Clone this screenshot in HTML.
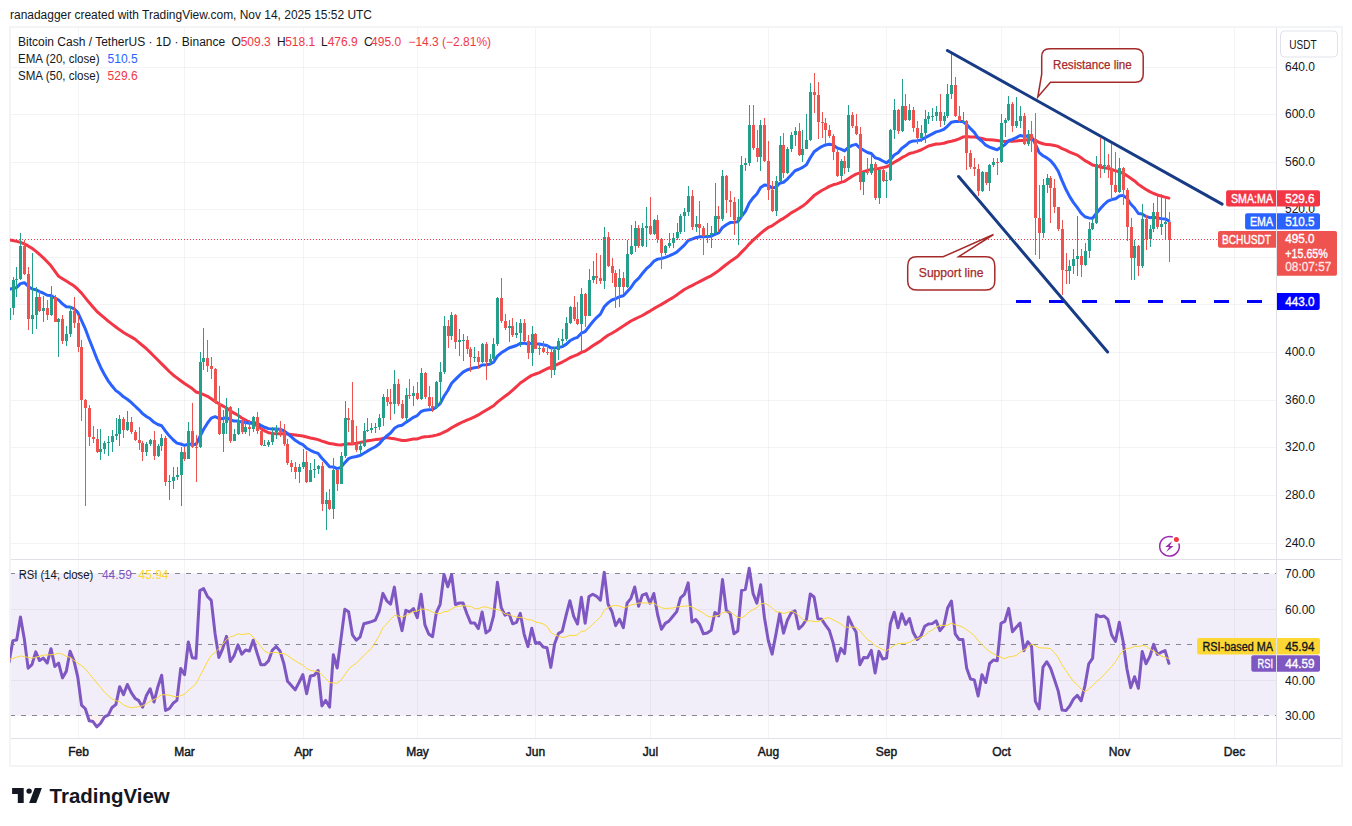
<!DOCTYPE html>
<html><head><meta charset="utf-8"><title>BCHUSDT chart</title>
<style>
html,body{margin:0;padding:0;background:#fff;width:1352px;height:826px;overflow:hidden}
svg{display:block}
text{font-family:"Liberation Sans",sans-serif}
</style></head><body>
<svg width="1352" height="826" viewBox="0 0 1352 826">
<defs>
<clipPath id="main"><rect x="10" y="28" width="1266" height="531"/></clipPath>
<clipPath id="rsi"><rect x="10" y="560" width="1266" height="178"/></clipPath>
</defs>
<rect width="1352" height="826" fill="#fff"/>

<text x="10" y="19" font-size="12" fill="#131722" textLength="362" lengthAdjust="spacingAndGlyphs">ranadagger created with TradingView.com, Nov 14, 2025 15:52 UTC</text>
<rect x="9" y="26" width="1334" height="741" fill="#f3f4f6"/>
<rect x="11" y="28" width="1330" height="737" fill="#fff"/>
<rect x="11" y="573.5" width="1265" height="142" fill="#f2eef9"/>
<rect x="78" y="28" width="1" height="710" fill="#000" fill-opacity="0.045"/>
<rect x="184" y="28" width="1" height="710" fill="#000" fill-opacity="0.045"/>
<rect x="303" y="28" width="1" height="710" fill="#000" fill-opacity="0.045"/>
<rect x="417" y="28" width="1" height="710" fill="#000" fill-opacity="0.045"/>
<rect x="535" y="28" width="1" height="710" fill="#000" fill-opacity="0.045"/>
<rect x="650" y="28" width="1" height="710" fill="#000" fill-opacity="0.045"/>
<rect x="768" y="28" width="1" height="710" fill="#000" fill-opacity="0.045"/>
<rect x="886" y="28" width="1" height="710" fill="#000" fill-opacity="0.045"/>
<rect x="1001" y="28" width="1" height="710" fill="#000" fill-opacity="0.045"/>
<rect x="1119" y="28" width="1" height="710" fill="#000" fill-opacity="0.045"/>
<rect x="1234" y="28" width="1" height="710" fill="#000" fill-opacity="0.045"/>
<rect x="11" y="67" width="1265" height="1" fill="#000" fill-opacity="0.045"/>
<rect x="11" y="114" width="1265" height="1" fill="#000" fill-opacity="0.045"/>
<rect x="11" y="162" width="1265" height="1" fill="#000" fill-opacity="0.045"/>
<rect x="11" y="209" width="1265" height="1" fill="#000" fill-opacity="0.045"/>
<rect x="11" y="257" width="1265" height="1" fill="#000" fill-opacity="0.045"/>
<rect x="11" y="304" width="1265" height="1" fill="#000" fill-opacity="0.045"/>
<rect x="11" y="352" width="1265" height="1" fill="#000" fill-opacity="0.045"/>
<rect x="11" y="400" width="1265" height="1" fill="#000" fill-opacity="0.045"/>
<rect x="11" y="447" width="1265" height="1" fill="#000" fill-opacity="0.045"/>
<rect x="11" y="495" width="1265" height="1" fill="#000" fill-opacity="0.045"/>
<rect x="11" y="543" width="1265" height="1" fill="#000" fill-opacity="0.045"/>
<rect x="11" y="609" width="1265" height="1" fill="#000" fill-opacity="0.045"/>
<rect x="11" y="680" width="1265" height="1" fill="#000" fill-opacity="0.045"/>
<rect x="11" y="559" width="1330" height="1" fill="#e0e2e7"/>
<rect x="11" y="738" width="1330" height="1" fill="#e0e2e7"/>
<rect x="1276" y="28" width="1" height="737" fill="#e0e2e7"/>
<line x1="11" y1="573.5" x2="1276" y2="573.5" stroke="#868993" stroke-width="1" stroke-dasharray="5 6" stroke-dashoffset="1"/>
<line x1="11" y1="644.5" x2="1276" y2="644.5" stroke="#868993" stroke-width="1" stroke-dasharray="5 6" stroke-dashoffset="1"/>
<line x1="11" y1="715.5" x2="1276" y2="715.5" stroke="#868993" stroke-width="1" stroke-dasharray="5 6" stroke-dashoffset="1"/>
<g clip-path="url(#main)">
<polyline points="9.04,239.9 12.86,240.6 16.68,241.35 20.49,242.3 24.31,243.84 28.12,245.91 31.94,248.28 35.75,251.11 39.57,254.42 43.38,257.9 47.2,261.76 51.01,265.85 54.83,271.1 58.64,276.33 62.46,278.67 66.27,281.02 70.09,283.42 73.91,285.84 77.72,289.22 81.54,293.09 85.35,297.84 89.17,302.58 92.98,306.95 96.8,311.28 100.61,314.72 104.43,317.89 108.24,321.06 112.06,324.08 115.87,326.97 119.69,329.85 123.5,332.53 127.32,334.72 131.13,336.9 134.95,339.13 138.77,342.32 142.58,345.52 146.4,348.71 150.21,352.41 154.03,356.23 157.84,360.04 161.66,363.86 165.47,367.67 169.29,371.49 173.1,374.98 176.92,377.84 180.73,380.7 184.55,383.53 188.36,386.08 192.18,388.62 195.99,391.97 199.81,393.06 203.63,394.63 207.44,396.35 211.26,398.82 215.07,401.4 218.89,403.69 222.7,405.84 226.52,408.03 230.33,410.64 234.15,413.15 237.96,415.26 241.78,417.96 245.59,420.06 249.41,422.26 253.22,423.78 257.04,425.73 260.85,428.41 264.67,430.85 268.49,432.74 272.3,433.38 276.12,433.79 279.93,433.7 283.75,433.8 287.56,434.01 291.38,434.38 295.19,434.95 299.01,435.46 302.82,435.99 306.64,436.96 310.45,437.97 314.27,438.75 318.08,439.63 321.9,441.07 325.71,442.27 329.53,443.58 333.35,443.93 337.16,444.72 340.98,445.03 344.79,444.28 348.61,443.77 352.42,443.9 356.24,443.26 360.05,442.57 363.87,441.64 367.68,440.74 371.5,440.26 375.31,439.62 379.13,439.36 382.94,438.36 386.76,437.46 390.58,438.31 394.39,438.83 398.21,439.61 402.02,440.57 405.84,440.41 409.65,439.66 413.47,439.07 417.28,438.91 421.1,437.55 424.91,436.83 428.73,436.54 432.54,436.06 436.36,435.15 440.17,434.02 443.99,432.2 447.8,430.31 451.62,427.7 455.44,425.64 459.25,423.6 463.07,421.76 466.88,420.17 470.7,418.66 474.51,416.93 478.33,414.92 482.14,412.46 485.96,410.25 489.77,408.09 493.59,405.73 497.4,402.06 501.22,399.08 505.03,396.25 508.85,393.44 512.66,390.05 516.48,386.71 520.3,383 524.11,380.42 527.93,377.8 531.74,375.37 535.56,373.98 539.37,372.53 543.19,370.69 547,368.75 550.82,367.23 554.63,365.62 558.45,363.85 562.26,362.05 566.08,359.98 569.89,357.76 573.71,356.19 577.52,354.64 581.34,352.42 585.16,351.05 588.97,348.55 592.79,345.72 596.6,343.38 600.42,341.07 604.23,337.96 608.05,335.28 611.86,333.28 615.68,331.07 619.49,328.52 623.31,326.1 627.12,323.53 630.94,321.01 634.75,319.05 638.57,317.24 642.38,315.5 646.2,313.18 650.02,311.07 653.83,308.67 657.65,306.46 661.46,304.37 665.28,302.14 669.09,299.76 672.91,297.63 676.72,295.03 680.54,292.16 684.35,289.51 688.17,287.47 691.98,285.59 695.8,283.51 699.61,281.56 703.43,279.58 707.24,277.62 711.06,275.81 714.88,273.32 718.69,270.63 722.51,267.47 726.32,264.5 730.14,261.58 733.95,258.95 737.77,256.24 741.58,252.13 745.4,248.38 749.21,244.07 753.03,240.25 756.84,236.93 760.66,233.31 764.47,230.15 768.29,227.47 772.11,225.81 775.92,223.12 779.74,220.42 783.55,218.36 787.37,215.79 791.18,212.88 795,210.75 798.81,208.55 802.63,206.08 806.44,203.15 810.26,199.41 814.07,195.58 817.89,192.95 821.7,190.48 825.52,188.53 829.33,186.35 833.15,184.82 836.97,183.84 840.78,182.37 844.6,181.33 848.41,178.86 852.23,176.32 856.04,174.09 859.86,172.88 863.67,171.58 867.49,170.39 871.3,169.35 875.12,169.07 878.93,168.54 882.75,167.63 886.56,166.75 890.38,164.8 894.19,162.28 898.01,160.19 901.83,157.66 905.64,155.74 909.46,153.57 913.27,152.62 917.09,151.38 920.9,150.01 924.72,147.99 928.53,145.97 932.35,144.98 936.16,143.96 939.98,143.88 943.79,143.24 947.61,141.98 951.42,141.17 955.24,140.26 959.05,138.88 962.87,137.1 966.69,136.54 970.5,136.99 974.32,136.9 978.13,137.73 981.95,138.47 985.76,139.51 989.58,139.71 993.39,139.95 997.21,140.4 1001.02,141.02 1004.84,141.52 1008.65,141.15 1012.47,141.21 1016.28,141.02 1020.1,140.61 1023.91,140.45 1027.73,139.6 1031.55,139.17 1035.36,140.18 1039.18,142.54 1042.99,143.72 1046.81,144.6 1050.62,144.72 1054.44,145.42 1058.25,146.53 1062.07,148.66 1065.88,150.13 1069.7,152.07 1073.51,153.63 1077.33,155.14 1081.14,157.84 1084.96,160.66 1088.77,162.62 1092.59,164.96 1096.41,165.83 1100.22,166.94 1104.04,167.67 1107.85,168.28 1111.67,169.32 1115.48,170.78 1119.3,171.83 1123.11,173.31 1126.93,175.6 1130.74,178.34 1134.56,180.93 1138.37,184.36 1142.19,187.05 1146,189.52 1149.82,191.68 1153.64,193.49 1157.45,194.97 1161.27,196.1 1165.08,197.17 1168.9,198.14" fill="none" stroke="#f23645" stroke-width="3" stroke-linejoin="round" stroke-linecap="round"/>
<polyline points="9.04,289.3 12.86,288.42 16.68,287.55 20.49,283.62 24.31,282.68 28.12,286.18 31.94,288.89 35.75,289.7 39.57,291.7 43.38,293.22 47.2,295.26 51.01,295.47 54.83,298.04 58.64,300 62.46,303.87 66.27,306.7 70.09,307.08 73.91,308.62 77.72,312.27 81.54,320.62 85.35,328.97 89.17,339.24 92.98,348.74 96.8,358.59 100.61,367.19 104.43,374.45 108.24,380.87 112.06,386.09 115.87,390.61 119.69,393.33 123.5,396.84 127.32,399.25 131.13,402.41 134.95,406 138.77,409.56 142.58,413.62 146.4,416.56 150.21,418.8 154.03,422.3 157.84,424.52 161.66,425.75 165.47,431.1 169.29,435.82 173.1,439.75 176.92,443.11 180.73,444 184.55,445.42 188.36,444.04 192.18,444.31 195.99,444.59 199.81,436.73 203.63,429.27 207.44,423.21 211.26,418.08 215.07,416.66 218.89,418.26 222.7,418.68 226.52,417.56 230.33,419.77 234.15,421.08 237.96,420.99 241.78,422.07 245.59,422.58 249.41,423.15 253.22,422.54 257.04,423.33 260.85,425.4 264.67,427.26 268.49,428.62 272.3,428.94 276.12,428.9 279.93,429.24 283.75,430.63 287.56,433.68 291.38,436.89 295.19,440.26 299.01,442.84 302.82,444.7 306.64,448.21 310.45,450.27 314.27,452.08 318.08,453.43 321.9,458.25 325.71,462.27 329.53,466.7 333.35,467 337.16,468.62 340.98,467.38 344.79,462.67 348.61,458.62 352.42,457.21 356.24,456.49 360.05,455.51 363.87,453.17 367.68,450.93 371.5,448.8 375.31,446.71 379.13,443.97 382.94,439.5 386.76,435.94 390.58,432.95 394.39,428.33 398.21,426.06 402.02,425.25 405.84,422.38 409.65,419.89 413.47,417.3 417.28,415.59 421.1,411.5 424.91,410.16 428.73,409.74 432.54,409.58 436.36,406.96 440.17,403.63 443.99,396.23 447.8,390.5 451.62,383.29 455.44,379.36 459.25,375.57 463.07,372.15 466.88,369.95 470.7,368.75 474.51,367.66 478.33,367.12 482.14,364.95 485.96,364.67 489.77,364.14 493.59,362.25 497.4,356.16 501.22,352.79 505.03,350.41 508.85,348.03 512.66,346.78 516.48,345.5 520.3,343.39 524.11,343.16 527.93,344.09 531.74,343.13 535.56,343.65 539.37,344.03 543.19,344.76 547,345.49 550.82,347.87 554.63,348.12 558.45,347.44 562.26,346.61 566.08,344.39 569.89,340.81 573.71,338.7 577.52,337.34 581.34,333.2 585.16,331.52 588.97,326.59 592.79,321.78 596.6,317.59 600.42,314.09 604.23,306.77 608.05,302.84 611.86,299.96 615.68,298.71 619.49,296.78 623.31,295.83 627.12,291.82 630.94,287.47 634.75,281.79 638.57,278.34 642.38,273.54 646.2,268.99 650.02,265.65 653.83,261.29 657.65,259.14 661.46,258.54 665.28,257.33 669.09,255.95 672.91,254.2 676.72,252.11 680.54,248.65 684.35,245.11 688.17,240.46 691.98,239.16 695.8,237.72 699.61,236.79 703.43,236.71 707.24,236.57 711.06,236.21 714.88,234.31 718.69,232.81 722.51,227.41 726.32,224.77 730.14,222.61 733.95,222.35 737.77,221.84 741.58,216.43 745.4,211.36 749.21,203.18 753.03,197.9 756.84,194.04 760.66,187.5 764.47,184.96 768.29,185.48 772.11,187.88 775.92,187.25 779.74,183.2 783.55,182.23 787.37,179.1 791.18,174.92 795,170.74 798.81,169.27 802.63,167.37 806.44,164.77 810.26,157.8 814.07,151.83 817.89,149.02 821.7,146.54 825.52,144.97 829.33,144.16 833.15,144.88 836.97,147.89 840.78,149.11 844.6,150.89 848.41,147.49 852.23,145.43 856.04,144.35 859.86,147.97 863.67,150.31 867.49,152.47 871.3,153.53 875.12,157.75 878.93,158.87 882.75,161 886.56,162.82 890.38,159.74 894.19,155.01 898.01,152.69 901.83,148.25 905.64,145.58 909.46,142.22 913.27,140.91 917.09,140.64 920.9,139.93 924.72,137.95 928.53,135.86 932.35,133.92 936.16,131.83 939.98,130.84 943.79,129.42 947.61,126.08 951.42,122.15 955.24,121.51 959.05,121.5 962.87,121.49 966.69,124.52 970.5,128.61 974.32,132.41 978.13,137.99 981.95,141.25 985.76,145.21 989.58,147.1 993.39,148.47 997.21,149.8 1001.02,147.21 1004.84,144.64 1008.65,140.74 1012.47,139.34 1016.28,137.57 1020.1,135.51 1023.91,136.29 1027.73,136.09 1031.55,136.38 1035.36,144.15 1039.18,152.65 1042.99,155.73 1046.81,157.85 1050.62,160.77 1054.44,165.21 1058.25,171.25 1062.07,180.66 1065.88,189.28 1069.7,196.63 1073.51,202.6 1077.33,207.67 1081.14,213.16 1084.96,216.77 1088.77,217.91 1092.59,218.37 1096.41,213.17 1100.22,208.68 1104.04,204.51 1107.85,201.08 1111.67,199.55 1115.48,198.84 1119.3,195.95 1123.11,195.36 1126.93,198.34 1130.74,204.02 1134.56,207.98 1138.37,213.51 1142.19,214.03 1146,216.44 1149.82,217.66 1153.64,217.12 1157.45,218.06 1161.27,218.63 1165.08,218.95 1168.9,220.91" fill="none" stroke="#2962ff" stroke-width="3" stroke-linejoin="round" stroke-linecap="round"/>
<rect x="9" y="307" width="1" height="12" fill="#22a08c"/>
<rect x="8" y="308" width="3" height="12" fill="#22a08c"/>
<rect x="13" y="277" width="1" height="38" fill="#22a08c"/>
<rect x="12" y="280" width="3" height="28" fill="#22a08c"/>
<rect x="16" y="267" width="1" height="30" fill="#22a08c"/>
<rect x="15" y="279" width="3" height="1" fill="#22a08c"/>
<rect x="20" y="233" width="1" height="47" fill="#22a08c"/>
<rect x="19" y="246" width="3" height="33" fill="#22a08c"/>
<rect x="24" y="240" width="1" height="35" fill="#ef5350"/>
<rect x="23" y="246" width="3" height="28" fill="#ef5350"/>
<rect x="28" y="267" width="1" height="63" fill="#ef5350"/>
<rect x="27" y="274" width="3" height="45" fill="#ef5350"/>
<rect x="32" y="253" width="1" height="81" fill="#22a08c"/>
<rect x="31" y="315" width="3" height="4" fill="#22a08c"/>
<rect x="36" y="287" width="1" height="42" fill="#22a08c"/>
<rect x="35" y="297" width="3" height="18" fill="#22a08c"/>
<rect x="39" y="291" width="1" height="21" fill="#ef5350"/>
<rect x="38" y="297" width="3" height="14" fill="#ef5350"/>
<rect x="43" y="296" width="1" height="26" fill="#22a08c"/>
<rect x="42" y="308" width="3" height="3" fill="#22a08c"/>
<rect x="47" y="300" width="1" height="20" fill="#ef5350"/>
<rect x="46" y="308" width="3" height="7" fill="#ef5350"/>
<rect x="51" y="286" width="1" height="30" fill="#22a08c"/>
<rect x="50" y="297" width="3" height="18" fill="#22a08c"/>
<rect x="55" y="295" width="1" height="27" fill="#ef5350"/>
<rect x="54" y="297" width="3" height="25" fill="#ef5350"/>
<rect x="58" y="318" width="1" height="39" fill="#22a08c"/>
<rect x="57" y="319" width="3" height="3" fill="#22a08c"/>
<rect x="62" y="315" width="1" height="29" fill="#ef5350"/>
<rect x="61" y="319" width="3" height="22" fill="#ef5350"/>
<rect x="66" y="326" width="1" height="20" fill="#22a08c"/>
<rect x="65" y="334" width="3" height="7" fill="#22a08c"/>
<rect x="70" y="306" width="1" height="31" fill="#22a08c"/>
<rect x="69" y="311" width="3" height="23" fill="#22a08c"/>
<rect x="74" y="297" width="1" height="31" fill="#ef5350"/>
<rect x="73" y="311" width="3" height="12" fill="#ef5350"/>
<rect x="78" y="315" width="1" height="37" fill="#ef5350"/>
<rect x="77" y="323" width="3" height="24" fill="#ef5350"/>
<rect x="81" y="340" width="1" height="81" fill="#ef5350"/>
<rect x="80" y="347" width="3" height="53" fill="#ef5350"/>
<rect x="85" y="399" width="1" height="107" fill="#ef5350"/>
<rect x="84" y="400" width="3" height="8" fill="#ef5350"/>
<rect x="89" y="405" width="1" height="41" fill="#ef5350"/>
<rect x="88" y="408" width="3" height="29" fill="#ef5350"/>
<rect x="93" y="426" width="1" height="17" fill="#ef5350"/>
<rect x="92" y="437" width="3" height="2" fill="#ef5350"/>
<rect x="97" y="429" width="1" height="24" fill="#ef5350"/>
<rect x="96" y="439" width="3" height="13" fill="#ef5350"/>
<rect x="100" y="429" width="1" height="31" fill="#22a08c"/>
<rect x="99" y="449" width="3" height="3" fill="#22a08c"/>
<rect x="104" y="441" width="1" height="13" fill="#22a08c"/>
<rect x="103" y="443" width="3" height="6" fill="#22a08c"/>
<rect x="108" y="436" width="1" height="20" fill="#22a08c"/>
<rect x="107" y="442" width="3" height="1" fill="#22a08c"/>
<rect x="112" y="430" width="1" height="22" fill="#22a08c"/>
<rect x="111" y="436" width="3" height="6" fill="#22a08c"/>
<rect x="116" y="418" width="1" height="22" fill="#22a08c"/>
<rect x="115" y="434" width="3" height="2" fill="#22a08c"/>
<rect x="119" y="415" width="1" height="31" fill="#22a08c"/>
<rect x="118" y="419" width="3" height="15" fill="#22a08c"/>
<rect x="123" y="417" width="1" height="21" fill="#ef5350"/>
<rect x="122" y="419" width="3" height="11" fill="#ef5350"/>
<rect x="127" y="411" width="1" height="20" fill="#22a08c"/>
<rect x="126" y="422" width="3" height="8" fill="#22a08c"/>
<rect x="131" y="417" width="1" height="17" fill="#ef5350"/>
<rect x="130" y="422" width="3" height="10" fill="#ef5350"/>
<rect x="135" y="430" width="1" height="11" fill="#ef5350"/>
<rect x="134" y="432" width="3" height="8" fill="#ef5350"/>
<rect x="139" y="427" width="1" height="23" fill="#ef5350"/>
<rect x="138" y="440" width="3" height="3" fill="#ef5350"/>
<rect x="142" y="441" width="1" height="20" fill="#ef5350"/>
<rect x="141" y="443" width="3" height="9" fill="#ef5350"/>
<rect x="146" y="442" width="1" height="14" fill="#22a08c"/>
<rect x="145" y="444" width="3" height="8" fill="#22a08c"/>
<rect x="150" y="439" width="1" height="7" fill="#22a08c"/>
<rect x="149" y="440" width="3" height="4" fill="#22a08c"/>
<rect x="154" y="431" width="1" height="29" fill="#ef5350"/>
<rect x="153" y="440" width="3" height="16" fill="#ef5350"/>
<rect x="158" y="444" width="1" height="13" fill="#22a08c"/>
<rect x="157" y="446" width="3" height="10" fill="#22a08c"/>
<rect x="161" y="434" width="1" height="17" fill="#22a08c"/>
<rect x="160" y="438" width="3" height="8" fill="#22a08c"/>
<rect x="165" y="436" width="1" height="50" fill="#ef5350"/>
<rect x="164" y="438" width="3" height="44" fill="#ef5350"/>
<rect x="169" y="475" width="1" height="25" fill="#22a08c"/>
<rect x="168" y="481" width="3" height="1" fill="#22a08c"/>
<rect x="173" y="467" width="1" height="22" fill="#22a08c"/>
<rect x="172" y="477" width="3" height="4" fill="#22a08c"/>
<rect x="177" y="467" width="1" height="13" fill="#22a08c"/>
<rect x="176" y="475" width="3" height="2" fill="#22a08c"/>
<rect x="181" y="447" width="1" height="59" fill="#22a08c"/>
<rect x="180" y="452" width="3" height="23" fill="#22a08c"/>
<rect x="184" y="447" width="1" height="14" fill="#ef5350"/>
<rect x="183" y="452" width="3" height="7" fill="#ef5350"/>
<rect x="188" y="422" width="1" height="37" fill="#22a08c"/>
<rect x="187" y="431" width="3" height="28" fill="#22a08c"/>
<rect x="192" y="403" width="1" height="45" fill="#ef5350"/>
<rect x="191" y="431" width="3" height="16" fill="#ef5350"/>
<rect x="196" y="435" width="1" height="47" fill="#ef5350"/>
<rect x="195" y="447" width="3" height="1" fill="#ef5350"/>
<rect x="200" y="352" width="1" height="96" fill="#22a08c"/>
<rect x="199" y="362" width="3" height="85" fill="#22a08c"/>
<rect x="203" y="328" width="1" height="42" fill="#22a08c"/>
<rect x="202" y="358" width="3" height="4" fill="#22a08c"/>
<rect x="207" y="340" width="1" height="32" fill="#ef5350"/>
<rect x="206" y="358" width="3" height="8" fill="#ef5350"/>
<rect x="211" y="357" width="1" height="22" fill="#ef5350"/>
<rect x="210" y="366" width="3" height="3" fill="#ef5350"/>
<rect x="215" y="368" width="1" height="36" fill="#ef5350"/>
<rect x="214" y="369" width="3" height="34" fill="#ef5350"/>
<rect x="219" y="386" width="1" height="49" fill="#ef5350"/>
<rect x="218" y="403" width="3" height="31" fill="#ef5350"/>
<rect x="223" y="410" width="1" height="42" fill="#22a08c"/>
<rect x="222" y="423" width="3" height="11" fill="#22a08c"/>
<rect x="226" y="398" width="1" height="36" fill="#22a08c"/>
<rect x="225" y="407" width="3" height="16" fill="#22a08c"/>
<rect x="230" y="406" width="1" height="37" fill="#ef5350"/>
<rect x="229" y="407" width="3" height="34" fill="#ef5350"/>
<rect x="234" y="429" width="1" height="12" fill="#22a08c"/>
<rect x="233" y="434" width="3" height="7" fill="#22a08c"/>
<rect x="238" y="408" width="1" height="27" fill="#22a08c"/>
<rect x="237" y="420" width="3" height="14" fill="#22a08c"/>
<rect x="242" y="419" width="1" height="15" fill="#ef5350"/>
<rect x="241" y="420" width="3" height="12" fill="#ef5350"/>
<rect x="245" y="420" width="1" height="14" fill="#22a08c"/>
<rect x="244" y="427" width="3" height="5" fill="#22a08c"/>
<rect x="249" y="420" width="1" height="16" fill="#ef5350"/>
<rect x="248" y="427" width="3" height="2" fill="#ef5350"/>
<rect x="253" y="416" width="1" height="16" fill="#22a08c"/>
<rect x="252" y="417" width="3" height="12" fill="#22a08c"/>
<rect x="257" y="412" width="1" height="22" fill="#ef5350"/>
<rect x="256" y="417" width="3" height="14" fill="#ef5350"/>
<rect x="261" y="428" width="1" height="18" fill="#ef5350"/>
<rect x="260" y="431" width="3" height="14" fill="#ef5350"/>
<rect x="264" y="440" width="1" height="6" fill="#22a08c"/>
<rect x="263" y="445" width="3" height="1" fill="#22a08c"/>
<rect x="268" y="440" width="1" height="7" fill="#22a08c"/>
<rect x="267" y="442" width="3" height="3" fill="#22a08c"/>
<rect x="272" y="427" width="1" height="18" fill="#22a08c"/>
<rect x="271" y="432" width="3" height="10" fill="#22a08c"/>
<rect x="276" y="425" width="1" height="14" fill="#22a08c"/>
<rect x="275" y="428" width="3" height="4" fill="#22a08c"/>
<rect x="280" y="421" width="1" height="16" fill="#ef5350"/>
<rect x="279" y="428" width="3" height="4" fill="#ef5350"/>
<rect x="284" y="424" width="1" height="22" fill="#ef5350"/>
<rect x="283" y="432" width="3" height="12" fill="#ef5350"/>
<rect x="287" y="439" width="1" height="26" fill="#ef5350"/>
<rect x="286" y="444" width="3" height="19" fill="#ef5350"/>
<rect x="291" y="460" width="1" height="12" fill="#ef5350"/>
<rect x="290" y="463" width="3" height="4" fill="#ef5350"/>
<rect x="295" y="462" width="1" height="17" fill="#ef5350"/>
<rect x="294" y="467" width="3" height="5" fill="#ef5350"/>
<rect x="299" y="464" width="1" height="19" fill="#22a08c"/>
<rect x="298" y="467" width="3" height="5" fill="#22a08c"/>
<rect x="303" y="449" width="1" height="20" fill="#22a08c"/>
<rect x="302" y="462" width="3" height="5" fill="#22a08c"/>
<rect x="306" y="451" width="1" height="32" fill="#ef5350"/>
<rect x="305" y="462" width="3" height="20" fill="#ef5350"/>
<rect x="310" y="463" width="1" height="18" fill="#22a08c"/>
<rect x="309" y="470" width="3" height="12" fill="#22a08c"/>
<rect x="314" y="459" width="1" height="19" fill="#22a08c"/>
<rect x="313" y="469" width="3" height="1" fill="#22a08c"/>
<rect x="318" y="465" width="1" height="9" fill="#22a08c"/>
<rect x="317" y="466" width="3" height="3" fill="#22a08c"/>
<rect x="322" y="462" width="1" height="49" fill="#ef5350"/>
<rect x="321" y="466" width="3" height="38" fill="#ef5350"/>
<rect x="326" y="492" width="1" height="38" fill="#22a08c"/>
<rect x="325" y="500" width="3" height="4" fill="#22a08c"/>
<rect x="329" y="489" width="1" height="21" fill="#ef5350"/>
<rect x="328" y="500" width="3" height="9" fill="#ef5350"/>
<rect x="333" y="458" width="1" height="61" fill="#22a08c"/>
<rect x="332" y="470" width="3" height="39" fill="#22a08c"/>
<rect x="337" y="469" width="1" height="22" fill="#ef5350"/>
<rect x="336" y="470" width="3" height="14" fill="#ef5350"/>
<rect x="341" y="452" width="1" height="32" fill="#22a08c"/>
<rect x="340" y="456" width="3" height="28" fill="#22a08c"/>
<rect x="345" y="401" width="1" height="57" fill="#22a08c"/>
<rect x="344" y="418" width="3" height="38" fill="#22a08c"/>
<rect x="348" y="408" width="1" height="24" fill="#ef5350"/>
<rect x="347" y="418" width="3" height="2" fill="#ef5350"/>
<rect x="352" y="382" width="1" height="63" fill="#ef5350"/>
<rect x="351" y="420" width="3" height="24" fill="#ef5350"/>
<rect x="356" y="426" width="1" height="26" fill="#ef5350"/>
<rect x="355" y="444" width="3" height="6" fill="#ef5350"/>
<rect x="360" y="442" width="1" height="12" fill="#22a08c"/>
<rect x="359" y="446" width="3" height="4" fill="#22a08c"/>
<rect x="364" y="423" width="1" height="24" fill="#22a08c"/>
<rect x="363" y="431" width="3" height="15" fill="#22a08c"/>
<rect x="367" y="418" width="1" height="14" fill="#22a08c"/>
<rect x="366" y="430" width="3" height="1" fill="#22a08c"/>
<rect x="371" y="423" width="1" height="10" fill="#22a08c"/>
<rect x="370" y="428" width="3" height="2" fill="#22a08c"/>
<rect x="375" y="423" width="1" height="10" fill="#22a08c"/>
<rect x="374" y="427" width="3" height="1" fill="#22a08c"/>
<rect x="379" y="414" width="1" height="16" fill="#22a08c"/>
<rect x="378" y="418" width="3" height="9" fill="#22a08c"/>
<rect x="383" y="394" width="1" height="32" fill="#22a08c"/>
<rect x="382" y="397" width="3" height="21" fill="#22a08c"/>
<rect x="387" y="389" width="1" height="17" fill="#ef5350"/>
<rect x="386" y="397" width="3" height="5" fill="#ef5350"/>
<rect x="390" y="389" width="1" height="31" fill="#ef5350"/>
<rect x="389" y="402" width="3" height="2" fill="#ef5350"/>
<rect x="394" y="370" width="1" height="44" fill="#22a08c"/>
<rect x="393" y="384" width="3" height="20" fill="#22a08c"/>
<rect x="398" y="379" width="1" height="27" fill="#ef5350"/>
<rect x="397" y="384" width="3" height="20" fill="#ef5350"/>
<rect x="402" y="400" width="1" height="19" fill="#ef5350"/>
<rect x="401" y="404" width="3" height="14" fill="#ef5350"/>
<rect x="406" y="388" width="1" height="33" fill="#22a08c"/>
<rect x="405" y="395" width="3" height="23" fill="#22a08c"/>
<rect x="409" y="379" width="1" height="20" fill="#ef5350"/>
<rect x="408" y="395" width="3" height="1" fill="#ef5350"/>
<rect x="413" y="386" width="1" height="20" fill="#22a08c"/>
<rect x="412" y="393" width="3" height="3" fill="#22a08c"/>
<rect x="417" y="382" width="1" height="18" fill="#ef5350"/>
<rect x="416" y="393" width="3" height="6" fill="#ef5350"/>
<rect x="421" y="368" width="1" height="32" fill="#22a08c"/>
<rect x="420" y="373" width="3" height="26" fill="#22a08c"/>
<rect x="425" y="372" width="1" height="27" fill="#ef5350"/>
<rect x="424" y="373" width="3" height="24" fill="#ef5350"/>
<rect x="429" y="386" width="1" height="23" fill="#ef5350"/>
<rect x="428" y="397" width="3" height="9" fill="#ef5350"/>
<rect x="432" y="397" width="1" height="15" fill="#ef5350"/>
<rect x="431" y="406" width="3" height="2" fill="#ef5350"/>
<rect x="436" y="381" width="1" height="28" fill="#22a08c"/>
<rect x="435" y="382" width="3" height="26" fill="#22a08c"/>
<rect x="440" y="362" width="1" height="42" fill="#22a08c"/>
<rect x="439" y="372" width="3" height="10" fill="#22a08c"/>
<rect x="444" y="316" width="1" height="58" fill="#22a08c"/>
<rect x="443" y="326" width="3" height="46" fill="#22a08c"/>
<rect x="448" y="320" width="1" height="28" fill="#ef5350"/>
<rect x="447" y="326" width="3" height="10" fill="#ef5350"/>
<rect x="451" y="312" width="1" height="28" fill="#22a08c"/>
<rect x="450" y="315" width="3" height="21" fill="#22a08c"/>
<rect x="455" y="314" width="1" height="35" fill="#ef5350"/>
<rect x="454" y="315" width="3" height="27" fill="#ef5350"/>
<rect x="459" y="329" width="1" height="27" fill="#22a08c"/>
<rect x="458" y="340" width="3" height="2" fill="#22a08c"/>
<rect x="463" y="334" width="1" height="27" fill="#22a08c"/>
<rect x="462" y="340" width="3" height="1" fill="#22a08c"/>
<rect x="467" y="336" width="1" height="18" fill="#ef5350"/>
<rect x="466" y="340" width="3" height="9" fill="#ef5350"/>
<rect x="470" y="347" width="1" height="25" fill="#ef5350"/>
<rect x="469" y="349" width="3" height="8" fill="#ef5350"/>
<rect x="474" y="347" width="1" height="15" fill="#22a08c"/>
<rect x="473" y="357" width="3" height="1" fill="#22a08c"/>
<rect x="478" y="351" width="1" height="18" fill="#ef5350"/>
<rect x="477" y="357" width="3" height="5" fill="#ef5350"/>
<rect x="482" y="343" width="1" height="20" fill="#22a08c"/>
<rect x="481" y="344" width="3" height="18" fill="#22a08c"/>
<rect x="486" y="342" width="1" height="38" fill="#ef5350"/>
<rect x="485" y="344" width="3" height="18" fill="#ef5350"/>
<rect x="490" y="354" width="1" height="10" fill="#22a08c"/>
<rect x="489" y="359" width="3" height="3" fill="#22a08c"/>
<rect x="493" y="338" width="1" height="25" fill="#22a08c"/>
<rect x="492" y="344" width="3" height="15" fill="#22a08c"/>
<rect x="497" y="297" width="1" height="49" fill="#22a08c"/>
<rect x="496" y="298" width="3" height="46" fill="#22a08c"/>
<rect x="501" y="278" width="1" height="45" fill="#ef5350"/>
<rect x="500" y="298" width="3" height="23" fill="#ef5350"/>
<rect x="505" y="314" width="1" height="16" fill="#ef5350"/>
<rect x="504" y="321" width="3" height="7" fill="#ef5350"/>
<rect x="509" y="320" width="1" height="22" fill="#22a08c"/>
<rect x="508" y="326" width="3" height="2" fill="#22a08c"/>
<rect x="512" y="318" width="1" height="19" fill="#ef5350"/>
<rect x="511" y="326" width="3" height="9" fill="#ef5350"/>
<rect x="516" y="322" width="1" height="16" fill="#22a08c"/>
<rect x="515" y="333" width="3" height="2" fill="#22a08c"/>
<rect x="520" y="319" width="1" height="28" fill="#22a08c"/>
<rect x="519" y="323" width="3" height="10" fill="#22a08c"/>
<rect x="524" y="319" width="1" height="23" fill="#ef5350"/>
<rect x="523" y="323" width="3" height="18" fill="#ef5350"/>
<rect x="528" y="335" width="1" height="24" fill="#ef5350"/>
<rect x="527" y="341" width="3" height="12" fill="#ef5350"/>
<rect x="532" y="326" width="1" height="40" fill="#22a08c"/>
<rect x="531" y="334" width="3" height="19" fill="#22a08c"/>
<rect x="535" y="333" width="1" height="16" fill="#ef5350"/>
<rect x="534" y="334" width="3" height="15" fill="#ef5350"/>
<rect x="539" y="343" width="1" height="12" fill="#22a08c"/>
<rect x="538" y="348" width="3" height="1" fill="#22a08c"/>
<rect x="543" y="341" width="1" height="12" fill="#ef5350"/>
<rect x="542" y="348" width="3" height="4" fill="#ef5350"/>
<rect x="547" y="345" width="1" height="10" fill="#ef5350"/>
<rect x="546" y="352" width="3" height="1" fill="#ef5350"/>
<rect x="551" y="348" width="1" height="30" fill="#ef5350"/>
<rect x="550" y="352" width="3" height="18" fill="#ef5350"/>
<rect x="554" y="347" width="1" height="28" fill="#22a08c"/>
<rect x="553" y="350" width="3" height="20" fill="#22a08c"/>
<rect x="558" y="338" width="1" height="22" fill="#22a08c"/>
<rect x="557" y="341" width="3" height="9" fill="#22a08c"/>
<rect x="562" y="329" width="1" height="17" fill="#22a08c"/>
<rect x="561" y="339" width="3" height="2" fill="#22a08c"/>
<rect x="566" y="317" width="1" height="24" fill="#22a08c"/>
<rect x="565" y="323" width="3" height="16" fill="#22a08c"/>
<rect x="570" y="306" width="1" height="18" fill="#22a08c"/>
<rect x="569" y="307" width="3" height="16" fill="#22a08c"/>
<rect x="574" y="296" width="1" height="25" fill="#ef5350"/>
<rect x="573" y="307" width="3" height="12" fill="#ef5350"/>
<rect x="577" y="302" width="1" height="23" fill="#ef5350"/>
<rect x="576" y="319" width="3" height="5" fill="#ef5350"/>
<rect x="581" y="288" width="1" height="66" fill="#22a08c"/>
<rect x="580" y="294" width="3" height="30" fill="#22a08c"/>
<rect x="585" y="293" width="1" height="34" fill="#ef5350"/>
<rect x="584" y="294" width="3" height="22" fill="#ef5350"/>
<rect x="589" y="269" width="1" height="47" fill="#22a08c"/>
<rect x="588" y="280" width="3" height="36" fill="#22a08c"/>
<rect x="593" y="261" width="1" height="22" fill="#22a08c"/>
<rect x="592" y="276" width="3" height="4" fill="#22a08c"/>
<rect x="596" y="253" width="1" height="31" fill="#ef5350"/>
<rect x="595" y="276" width="3" height="2" fill="#ef5350"/>
<rect x="600" y="255" width="1" height="29" fill="#ef5350"/>
<rect x="599" y="278" width="3" height="3" fill="#ef5350"/>
<rect x="604" y="227" width="1" height="62" fill="#22a08c"/>
<rect x="603" y="237" width="3" height="44" fill="#22a08c"/>
<rect x="608" y="232" width="1" height="35" fill="#ef5350"/>
<rect x="607" y="237" width="3" height="29" fill="#ef5350"/>
<rect x="612" y="258" width="1" height="25" fill="#ef5350"/>
<rect x="611" y="266" width="3" height="7" fill="#ef5350"/>
<rect x="615" y="270" width="1" height="38" fill="#ef5350"/>
<rect x="614" y="273" width="3" height="14" fill="#ef5350"/>
<rect x="619" y="269" width="1" height="38" fill="#22a08c"/>
<rect x="618" y="278" width="3" height="9" fill="#22a08c"/>
<rect x="623" y="272" width="1" height="22" fill="#ef5350"/>
<rect x="622" y="278" width="3" height="9" fill="#ef5350"/>
<rect x="627" y="240" width="1" height="48" fill="#22a08c"/>
<rect x="626" y="254" width="3" height="33" fill="#22a08c"/>
<rect x="631" y="225" width="1" height="30" fill="#22a08c"/>
<rect x="630" y="246" width="3" height="8" fill="#22a08c"/>
<rect x="635" y="221" width="1" height="31" fill="#22a08c"/>
<rect x="634" y="228" width="3" height="18" fill="#22a08c"/>
<rect x="638" y="225" width="1" height="23" fill="#ef5350"/>
<rect x="637" y="228" width="3" height="18" fill="#ef5350"/>
<rect x="642" y="223" width="1" height="24" fill="#22a08c"/>
<rect x="641" y="228" width="3" height="18" fill="#22a08c"/>
<rect x="646" y="207" width="1" height="40" fill="#22a08c"/>
<rect x="645" y="226" width="3" height="2" fill="#22a08c"/>
<rect x="650" y="197" width="1" height="38" fill="#ef5350"/>
<rect x="649" y="226" width="3" height="8" fill="#ef5350"/>
<rect x="654" y="219" width="1" height="16" fill="#22a08c"/>
<rect x="653" y="220" width="3" height="14" fill="#22a08c"/>
<rect x="657" y="215" width="1" height="28" fill="#ef5350"/>
<rect x="656" y="220" width="3" height="19" fill="#ef5350"/>
<rect x="661" y="238" width="1" height="31" fill="#ef5350"/>
<rect x="660" y="239" width="3" height="14" fill="#ef5350"/>
<rect x="665" y="245" width="1" height="10" fill="#22a08c"/>
<rect x="664" y="246" width="3" height="7" fill="#22a08c"/>
<rect x="669" y="233" width="1" height="15" fill="#22a08c"/>
<rect x="668" y="243" width="3" height="3" fill="#22a08c"/>
<rect x="673" y="233" width="1" height="15" fill="#22a08c"/>
<rect x="672" y="238" width="3" height="5" fill="#22a08c"/>
<rect x="677" y="223" width="1" height="17" fill="#22a08c"/>
<rect x="676" y="232" width="3" height="6" fill="#22a08c"/>
<rect x="680" y="214" width="1" height="20" fill="#22a08c"/>
<rect x="679" y="216" width="3" height="16" fill="#22a08c"/>
<rect x="684" y="208" width="1" height="24" fill="#22a08c"/>
<rect x="683" y="212" width="3" height="4" fill="#22a08c"/>
<rect x="688" y="186" width="1" height="30" fill="#22a08c"/>
<rect x="687" y="196" width="3" height="16" fill="#22a08c"/>
<rect x="692" y="190" width="1" height="40" fill="#ef5350"/>
<rect x="691" y="196" width="3" height="31" fill="#ef5350"/>
<rect x="696" y="216" width="1" height="16" fill="#22a08c"/>
<rect x="695" y="224" width="3" height="3" fill="#22a08c"/>
<rect x="699" y="201" width="1" height="35" fill="#ef5350"/>
<rect x="698" y="224" width="3" height="4" fill="#ef5350"/>
<rect x="703" y="226" width="1" height="29" fill="#ef5350"/>
<rect x="702" y="228" width="3" height="8" fill="#ef5350"/>
<rect x="707" y="223" width="1" height="20" fill="#22a08c"/>
<rect x="706" y="235" width="3" height="1" fill="#22a08c"/>
<rect x="711" y="226" width="1" height="22" fill="#22a08c"/>
<rect x="710" y="233" width="3" height="2" fill="#22a08c"/>
<rect x="715" y="183" width="1" height="51" fill="#22a08c"/>
<rect x="714" y="216" width="3" height="17" fill="#22a08c"/>
<rect x="718" y="206" width="1" height="26" fill="#ef5350"/>
<rect x="717" y="216" width="3" height="3" fill="#ef5350"/>
<rect x="722" y="170" width="1" height="51" fill="#22a08c"/>
<rect x="721" y="176" width="3" height="43" fill="#22a08c"/>
<rect x="726" y="175" width="1" height="38" fill="#ef5350"/>
<rect x="725" y="176" width="3" height="24" fill="#ef5350"/>
<rect x="730" y="191" width="1" height="26" fill="#ef5350"/>
<rect x="729" y="200" width="3" height="2" fill="#ef5350"/>
<rect x="734" y="197" width="1" height="38" fill="#ef5350"/>
<rect x="733" y="202" width="3" height="18" fill="#ef5350"/>
<rect x="738" y="199" width="1" height="46" fill="#22a08c"/>
<rect x="737" y="217" width="3" height="3" fill="#22a08c"/>
<rect x="741" y="156" width="1" height="63" fill="#22a08c"/>
<rect x="740" y="165" width="3" height="52" fill="#22a08c"/>
<rect x="745" y="158" width="1" height="13" fill="#22a08c"/>
<rect x="744" y="163" width="3" height="2" fill="#22a08c"/>
<rect x="749" y="105" width="1" height="61" fill="#22a08c"/>
<rect x="748" y="125" width="3" height="38" fill="#22a08c"/>
<rect x="753" y="105" width="1" height="45" fill="#ef5350"/>
<rect x="752" y="125" width="3" height="23" fill="#ef5350"/>
<rect x="757" y="130" width="1" height="32" fill="#ef5350"/>
<rect x="756" y="148" width="3" height="9" fill="#ef5350"/>
<rect x="760" y="120" width="1" height="51" fill="#22a08c"/>
<rect x="759" y="125" width="3" height="32" fill="#22a08c"/>
<rect x="764" y="118" width="1" height="44" fill="#ef5350"/>
<rect x="763" y="125" width="3" height="36" fill="#ef5350"/>
<rect x="768" y="141" width="1" height="59" fill="#ef5350"/>
<rect x="767" y="161" width="3" height="29" fill="#ef5350"/>
<rect x="772" y="181" width="1" height="31" fill="#ef5350"/>
<rect x="771" y="190" width="3" height="21" fill="#ef5350"/>
<rect x="776" y="176" width="1" height="40" fill="#22a08c"/>
<rect x="775" y="181" width="3" height="30" fill="#22a08c"/>
<rect x="780" y="136" width="1" height="46" fill="#22a08c"/>
<rect x="779" y="145" width="3" height="36" fill="#22a08c"/>
<rect x="783" y="133" width="1" height="45" fill="#ef5350"/>
<rect x="782" y="145" width="3" height="28" fill="#ef5350"/>
<rect x="787" y="147" width="1" height="27" fill="#22a08c"/>
<rect x="786" y="149" width="3" height="24" fill="#22a08c"/>
<rect x="791" y="132" width="1" height="20" fill="#22a08c"/>
<rect x="790" y="135" width="3" height="14" fill="#22a08c"/>
<rect x="795" y="127" width="1" height="19" fill="#22a08c"/>
<rect x="794" y="131" width="3" height="4" fill="#22a08c"/>
<rect x="799" y="123" width="1" height="33" fill="#ef5350"/>
<rect x="798" y="131" width="3" height="24" fill="#ef5350"/>
<rect x="802" y="130" width="1" height="32" fill="#22a08c"/>
<rect x="801" y="149" width="3" height="6" fill="#22a08c"/>
<rect x="806" y="114" width="1" height="35" fill="#22a08c"/>
<rect x="805" y="140" width="3" height="9" fill="#22a08c"/>
<rect x="810" y="83" width="1" height="58" fill="#22a08c"/>
<rect x="809" y="92" width="3" height="48" fill="#22a08c"/>
<rect x="814" y="73" width="1" height="40" fill="#ef5350"/>
<rect x="813" y="92" width="3" height="3" fill="#ef5350"/>
<rect x="818" y="82" width="1" height="57" fill="#ef5350"/>
<rect x="817" y="95" width="3" height="27" fill="#ef5350"/>
<rect x="822" y="112" width="1" height="26" fill="#ef5350"/>
<rect x="821" y="122" width="3" height="1" fill="#ef5350"/>
<rect x="825" y="118" width="1" height="26" fill="#ef5350"/>
<rect x="824" y="123" width="3" height="7" fill="#ef5350"/>
<rect x="829" y="125" width="1" height="13" fill="#ef5350"/>
<rect x="828" y="130" width="3" height="6" fill="#ef5350"/>
<rect x="833" y="134" width="1" height="26" fill="#ef5350"/>
<rect x="832" y="136" width="3" height="16" fill="#ef5350"/>
<rect x="837" y="149" width="1" height="28" fill="#ef5350"/>
<rect x="836" y="152" width="3" height="24" fill="#ef5350"/>
<rect x="841" y="159" width="1" height="22" fill="#22a08c"/>
<rect x="840" y="161" width="3" height="15" fill="#22a08c"/>
<rect x="844" y="156" width="1" height="18" fill="#ef5350"/>
<rect x="843" y="161" width="3" height="7" fill="#ef5350"/>
<rect x="848" y="105" width="1" height="67" fill="#22a08c"/>
<rect x="847" y="115" width="3" height="53" fill="#22a08c"/>
<rect x="852" y="112" width="1" height="16" fill="#ef5350"/>
<rect x="851" y="115" width="3" height="11" fill="#ef5350"/>
<rect x="856" y="114" width="1" height="21" fill="#ef5350"/>
<rect x="855" y="126" width="3" height="8" fill="#ef5350"/>
<rect x="860" y="127" width="1" height="63" fill="#ef5350"/>
<rect x="859" y="134" width="3" height="48" fill="#ef5350"/>
<rect x="863" y="172" width="1" height="23" fill="#22a08c"/>
<rect x="862" y="172" width="3" height="10" fill="#22a08c"/>
<rect x="867" y="158" width="1" height="17" fill="#ef5350"/>
<rect x="866" y="172" width="3" height="1" fill="#ef5350"/>
<rect x="871" y="155" width="1" height="20" fill="#22a08c"/>
<rect x="870" y="164" width="3" height="9" fill="#22a08c"/>
<rect x="875" y="162" width="1" height="38" fill="#ef5350"/>
<rect x="874" y="164" width="3" height="34" fill="#ef5350"/>
<rect x="879" y="168" width="1" height="36" fill="#22a08c"/>
<rect x="878" y="170" width="3" height="28" fill="#22a08c"/>
<rect x="883" y="167" width="1" height="15" fill="#ef5350"/>
<rect x="882" y="170" width="3" height="11" fill="#ef5350"/>
<rect x="886" y="172" width="1" height="26" fill="#22a08c"/>
<rect x="885" y="180" width="3" height="1" fill="#22a08c"/>
<rect x="890" y="129" width="1" height="52" fill="#22a08c"/>
<rect x="889" y="130" width="3" height="50" fill="#22a08c"/>
<rect x="894" y="99" width="1" height="40" fill="#22a08c"/>
<rect x="893" y="110" width="3" height="20" fill="#22a08c"/>
<rect x="898" y="109" width="1" height="25" fill="#ef5350"/>
<rect x="897" y="110" width="3" height="21" fill="#ef5350"/>
<rect x="902" y="79" width="1" height="53" fill="#22a08c"/>
<rect x="901" y="106" width="3" height="25" fill="#22a08c"/>
<rect x="905" y="94" width="1" height="27" fill="#ef5350"/>
<rect x="904" y="106" width="3" height="14" fill="#ef5350"/>
<rect x="909" y="104" width="1" height="17" fill="#22a08c"/>
<rect x="908" y="110" width="3" height="10" fill="#22a08c"/>
<rect x="913" y="107" width="1" height="25" fill="#ef5350"/>
<rect x="912" y="110" width="3" height="18" fill="#ef5350"/>
<rect x="917" y="121" width="1" height="23" fill="#ef5350"/>
<rect x="916" y="128" width="3" height="10" fill="#ef5350"/>
<rect x="921" y="125" width="1" height="17" fill="#22a08c"/>
<rect x="920" y="133" width="3" height="5" fill="#22a08c"/>
<rect x="925" y="110" width="1" height="33" fill="#22a08c"/>
<rect x="924" y="119" width="3" height="14" fill="#22a08c"/>
<rect x="928" y="112" width="1" height="12" fill="#22a08c"/>
<rect x="927" y="116" width="3" height="3" fill="#22a08c"/>
<rect x="932" y="108" width="1" height="13" fill="#22a08c"/>
<rect x="931" y="116" width="3" height="1" fill="#22a08c"/>
<rect x="936" y="106" width="1" height="15" fill="#22a08c"/>
<rect x="935" y="112" width="3" height="4" fill="#22a08c"/>
<rect x="940" y="94" width="1" height="33" fill="#ef5350"/>
<rect x="939" y="112" width="3" height="9" fill="#ef5350"/>
<rect x="944" y="112" width="1" height="13" fill="#22a08c"/>
<rect x="943" y="116" width="3" height="5" fill="#22a08c"/>
<rect x="947" y="84" width="1" height="34" fill="#22a08c"/>
<rect x="946" y="94" width="3" height="22" fill="#22a08c"/>
<rect x="951" y="54" width="1" height="45" fill="#22a08c"/>
<rect x="950" y="85" width="3" height="9" fill="#22a08c"/>
<rect x="955" y="77" width="1" height="40" fill="#ef5350"/>
<rect x="954" y="85" width="3" height="31" fill="#ef5350"/>
<rect x="959" y="106" width="1" height="17" fill="#ef5350"/>
<rect x="958" y="116" width="3" height="5" fill="#ef5350"/>
<rect x="963" y="112" width="1" height="11" fill="#22a08c"/>
<rect x="962" y="121" width="3" height="1" fill="#22a08c"/>
<rect x="966" y="120" width="1" height="50" fill="#ef5350"/>
<rect x="965" y="121" width="3" height="32" fill="#ef5350"/>
<rect x="970" y="150" width="1" height="19" fill="#ef5350"/>
<rect x="969" y="153" width="3" height="14" fill="#ef5350"/>
<rect x="974" y="158" width="1" height="18" fill="#ef5350"/>
<rect x="973" y="167" width="3" height="2" fill="#ef5350"/>
<rect x="978" y="164" width="1" height="32" fill="#ef5350"/>
<rect x="977" y="169" width="3" height="22" fill="#ef5350"/>
<rect x="982" y="171" width="1" height="21" fill="#22a08c"/>
<rect x="981" y="172" width="3" height="19" fill="#22a08c"/>
<rect x="986" y="174" width="1" height="11" fill="#ef5350"/>
<rect x="985" y="172" width="3" height="11" fill="#ef5350"/>
<rect x="989" y="164" width="1" height="27" fill="#22a08c"/>
<rect x="988" y="165" width="3" height="18" fill="#22a08c"/>
<rect x="993" y="158" width="1" height="9" fill="#22a08c"/>
<rect x="992" y="162" width="3" height="3" fill="#22a08c"/>
<rect x="997" y="158" width="1" height="17" fill="#ef5350"/>
<rect x="996" y="162" width="3" height="1" fill="#ef5350"/>
<rect x="1001" y="114" width="1" height="49" fill="#22a08c"/>
<rect x="1000" y="123" width="3" height="39" fill="#22a08c"/>
<rect x="1005" y="118" width="1" height="19" fill="#22a08c"/>
<rect x="1004" y="120" width="3" height="3" fill="#22a08c"/>
<rect x="1008" y="96" width="1" height="25" fill="#22a08c"/>
<rect x="1007" y="104" width="3" height="16" fill="#22a08c"/>
<rect x="1012" y="102" width="1" height="30" fill="#ef5350"/>
<rect x="1011" y="104" width="3" height="22" fill="#ef5350"/>
<rect x="1016" y="97" width="1" height="31" fill="#22a08c"/>
<rect x="1015" y="121" width="3" height="5" fill="#22a08c"/>
<rect x="1020" y="106" width="1" height="22" fill="#22a08c"/>
<rect x="1019" y="116" width="3" height="5" fill="#22a08c"/>
<rect x="1024" y="113" width="1" height="32" fill="#ef5350"/>
<rect x="1023" y="116" width="3" height="28" fill="#ef5350"/>
<rect x="1028" y="130" width="1" height="16" fill="#22a08c"/>
<rect x="1027" y="134" width="3" height="10" fill="#22a08c"/>
<rect x="1031" y="121" width="1" height="31" fill="#ef5350"/>
<rect x="1030" y="134" width="3" height="5" fill="#ef5350"/>
<rect x="1035" y="113" width="1" height="142" fill="#ef5350"/>
<rect x="1034" y="139" width="3" height="79" fill="#ef5350"/>
<rect x="1039" y="185" width="1" height="74" fill="#ef5350"/>
<rect x="1038" y="218" width="3" height="15" fill="#ef5350"/>
<rect x="1043" y="179" width="1" height="59" fill="#22a08c"/>
<rect x="1042" y="185" width="3" height="48" fill="#22a08c"/>
<rect x="1047" y="174" width="1" height="19" fill="#22a08c"/>
<rect x="1046" y="178" width="3" height="7" fill="#22a08c"/>
<rect x="1050" y="176" width="1" height="47" fill="#ef5350"/>
<rect x="1049" y="178" width="3" height="10" fill="#ef5350"/>
<rect x="1054" y="179" width="1" height="34" fill="#ef5350"/>
<rect x="1053" y="188" width="3" height="19" fill="#ef5350"/>
<rect x="1058" y="207" width="1" height="24" fill="#ef5350"/>
<rect x="1057" y="207" width="3" height="22" fill="#ef5350"/>
<rect x="1062" y="220" width="1" height="75" fill="#ef5350"/>
<rect x="1061" y="229" width="3" height="41" fill="#ef5350"/>
<rect x="1066" y="253" width="1" height="31" fill="#ef5350"/>
<rect x="1065" y="270" width="3" height="1" fill="#ef5350"/>
<rect x="1069" y="260" width="1" height="24" fill="#22a08c"/>
<rect x="1068" y="266" width="3" height="5" fill="#22a08c"/>
<rect x="1073" y="249" width="1" height="25" fill="#22a08c"/>
<rect x="1072" y="259" width="3" height="7" fill="#22a08c"/>
<rect x="1077" y="216" width="1" height="60" fill="#22a08c"/>
<rect x="1076" y="256" width="3" height="3" fill="#22a08c"/>
<rect x="1081" y="249" width="1" height="28" fill="#ef5350"/>
<rect x="1080" y="256" width="3" height="9" fill="#ef5350"/>
<rect x="1085" y="243" width="1" height="23" fill="#22a08c"/>
<rect x="1084" y="251" width="3" height="14" fill="#22a08c"/>
<rect x="1089" y="222" width="1" height="36" fill="#22a08c"/>
<rect x="1088" y="229" width="3" height="22" fill="#22a08c"/>
<rect x="1092" y="219" width="1" height="11" fill="#22a08c"/>
<rect x="1091" y="223" width="3" height="6" fill="#22a08c"/>
<rect x="1096" y="156" width="1" height="68" fill="#22a08c"/>
<rect x="1095" y="164" width="3" height="59" fill="#22a08c"/>
<rect x="1100" y="138" width="1" height="40" fill="#ef5350"/>
<rect x="1099" y="164" width="3" height="2" fill="#ef5350"/>
<rect x="1104" y="138" width="1" height="35" fill="#22a08c"/>
<rect x="1103" y="165" width="3" height="1" fill="#22a08c"/>
<rect x="1108" y="154" width="1" height="24" fill="#ef5350"/>
<rect x="1107" y="165" width="3" height="3" fill="#ef5350"/>
<rect x="1111" y="144" width="1" height="56" fill="#ef5350"/>
<rect x="1110" y="168" width="3" height="17" fill="#ef5350"/>
<rect x="1115" y="152" width="1" height="41" fill="#ef5350"/>
<rect x="1114" y="185" width="3" height="7" fill="#ef5350"/>
<rect x="1119" y="158" width="1" height="35" fill="#22a08c"/>
<rect x="1118" y="168" width="3" height="24" fill="#22a08c"/>
<rect x="1123" y="167" width="1" height="38" fill="#ef5350"/>
<rect x="1122" y="168" width="3" height="22" fill="#ef5350"/>
<rect x="1127" y="188" width="1" height="53" fill="#ef5350"/>
<rect x="1126" y="190" width="3" height="37" fill="#ef5350"/>
<rect x="1131" y="218" width="1" height="62" fill="#ef5350"/>
<rect x="1130" y="227" width="3" height="31" fill="#ef5350"/>
<rect x="1134" y="240" width="1" height="40" fill="#22a08c"/>
<rect x="1133" y="246" width="3" height="12" fill="#22a08c"/>
<rect x="1138" y="245" width="1" height="31" fill="#ef5350"/>
<rect x="1137" y="246" width="3" height="20" fill="#ef5350"/>
<rect x="1142" y="204" width="1" height="64" fill="#22a08c"/>
<rect x="1141" y="219" width="3" height="47" fill="#22a08c"/>
<rect x="1146" y="215" width="1" height="35" fill="#ef5350"/>
<rect x="1145" y="219" width="3" height="20" fill="#ef5350"/>
<rect x="1150" y="225" width="1" height="22" fill="#22a08c"/>
<rect x="1149" y="229" width="3" height="10" fill="#22a08c"/>
<rect x="1153" y="203" width="1" height="29" fill="#22a08c"/>
<rect x="1152" y="212" width="3" height="17" fill="#22a08c"/>
<rect x="1157" y="196" width="1" height="33" fill="#ef5350"/>
<rect x="1156" y="212" width="3" height="15" fill="#ef5350"/>
<rect x="1161" y="194" width="1" height="41" fill="#22a08c"/>
<rect x="1160" y="224" width="3" height="3" fill="#22a08c"/>
<rect x="1165" y="196" width="1" height="43" fill="#22a08c"/>
<rect x="1164" y="222" width="3" height="2" fill="#22a08c"/>
<rect x="1169" y="212" width="1" height="50" fill="#ef5350"/>
<rect x="1168" y="222" width="3" height="18" fill="#ef5350"/>
<line x1="10" y1="239.5" x2="1276" y2="239.5" stroke="#f23645" stroke-width="1" stroke-dasharray="1 2"/>
<line x1="1016" y1="301.5" x2="1276" y2="301.5" stroke="#0000ff" stroke-width="3" stroke-dasharray="15 18"/>
<line x1="947.4" y1="50.5" x2="1222.1" y2="204.1" stroke="#173b85" stroke-width="3" stroke-linecap="round"/>
<line x1="958.6" y1="176.5" x2="1107.6" y2="352" stroke="#173b85" stroke-width="3" stroke-linecap="round"/>
<path d="M1049.7,48.8 H1135.2 Q1143.2,48.8 1143.2,56.8 V74.2 Q1143.2,82.2 1135.2,82.2 H1050.5 L1037.8,97 L1041.7,74.2 V56.8 Q1041.7,48.8 1049.7,48.8 Z" fill="#fff" stroke="#a52a2a" stroke-width="1.5"/>
<text x="1053" y="68.8" font-size="12" fill="#a52a2a" stroke="#a52a2a" stroke-width="0.25" textLength="78.7" lengthAdjust="spacingAndGlyphs">Resistance line</text>
<path d="M916.7,256.8 H943.1 L993.5,234.5 L958.5,256.8 H985.8 Q994.8,256.8 994.8,265.8 V280.9 Q994.8,289.9 985.8,289.9 H916.7 Q907.7,289.9 907.7,280.9 V265.8 Q907.7,256.8 916.7,256.8 Z" fill="#fff" stroke="#a52a2a" stroke-width="1.5"/>
<text x="918.8" y="276.9" font-size="12" fill="#a52a2a" stroke="#a52a2a" stroke-width="0.25" textLength="64.7" lengthAdjust="spacingAndGlyphs">Support line</text>
<path d="M1172.74,537.05 A9.8,9.8 0 1 0 1178.87,543.43" fill="none" stroke="#9c27b0" stroke-width="1.5"/>
<circle cx="1176.4" cy="539.4" r="2.5" fill="#f23645"/>
<path d="M1172.2,541 L1165.3,546.9 L1169.2,546.9 L1166.2,552 L1173.6,546 L1169.8,546 Z" fill="#9c27b0"/>
</g>
<g clip-path="url(#rsi)">
<clipPath id="os"><rect x="10" y="715.5" width="1266" height="23"/></clipPath><clipPath id="ob"><rect x="10" y="560" width="1266" height="13.5"/></clipPath>
<polygon clip-path="url(#os)" points="9.04,662.25 12.86,640.64 16.68,640.04 20.49,616.96 24.31,638.89 28.12,668.17 31.94,664.67 35.75,651.88 39.57,660.53 43.38,658.09 47.2,663.03 51.01,648.67 54.83,666.47 58.64,663.1 62.46,677.89 66.27,671.37 70.09,651.3 73.91,660.69 77.72,676.8 81.54,705.08 85.35,708.75 89.17,720.7 92.98,721.57 96.8,726.89 100.61,723.24 104.43,716.93 108.24,715.13 112.06,707.45 115.87,704.64 119.69,686.65 123.5,694.64 127.32,684.46 131.13,692.4 134.95,698.15 138.77,700.63 142.58,707.25 146.4,695.51 150.21,688.84 154.03,702.04 157.84,686.95 161.66,675.18 165.47,710.43 169.29,708.74 173.1,703.3 176.92,700.39 180.73,668.49 184.55,674.7 188.36,641.98 192.18,657.76 195.99,658.25 199.81,590.62 203.63,588.66 207.44,596.45 211.26,600.38 215.07,633.66 218.89,657.45 222.7,648.56 226.52,636.31 230.33,661.5 234.15,655.57 237.96,644.92 241.78,654.2 245.59,650.02 249.41,651.03 253.22,640.19 257.04,652.98 260.85,664.8 264.67,664.8 268.49,660.9 272.3,650.32 276.12,646.44 279.93,650.9 283.75,663.18 287.56,681.36 291.38,685.54 295.19,689.87 299.01,682.51 302.82,674.67 306.64,693.69 310.45,675.93 314.27,675.19 318.08,670.51 321.9,705.87 325.71,700.42 329.53,707.11 333.35,654.81 337.16,667.96 340.98,638.84 344.79,609.35 348.61,611.72 352.42,634.78 356.24,640.16 360.05,637.04 363.87,623.76 367.68,622.73 371.5,621.64 375.31,620.1 379.13,611.38 382.94,593.39 386.76,600.78 390.58,604.13 394.39,587.09 398.21,614.82 402.02,630.63 405.84,610.33 409.65,611.84 413.47,608.59 417.28,617.64 421.1,594.21 424.91,624.87 428.73,634.03 432.54,636.71 436.36,612.51 440.17,604.31 443.99,574.55 447.8,586.7 451.62,574.8 455.44,604.54 459.25,602.99 463.07,602.99 466.88,613.79 470.7,622.92 474.51,622.92 478.33,628.56 482.14,611.91 485.96,632.9 489.77,630.12 493.59,615.85 497.4,582.31 501.22,607.64 505.03,615.1 508.85,613.33 512.66,623.79 516.48,622.37 520.3,613.39 524.11,634.09 527.93,646.68 531.74,628.2 535.56,643.48 539.37,642.56 543.19,646.92 547,647.72 550.82,667.36 554.63,643.67 558.45,633.59 562.26,631.15 566.08,615.47 569.89,600.72 573.71,616.44 577.52,624.02 581.34,597.15 585.16,623.17 588.97,596.57 592.79,594.23 596.6,596.31 600.42,600.27 604.23,572.22 608.05,604.19 611.86,611.47 615.68,625.61 619.49,619.18 623.31,627.66 627.12,603.19 630.94,598.31 634.75,586.95 638.57,606.28 642.38,595.06 646.2,593.62 650.02,603.2 653.83,593.43 657.65,614.75 661.46,629.29 665.28,623.38 669.09,620.91 672.91,616.2 676.72,611.6 680.54,597.84 684.35,594.43 688.17,582.88 691.98,622.06 695.8,619.51 699.61,624.33 703.43,633.84 707.24,633.08 711.06,630.32 714.88,612.45 718.69,615.83 722.51,579.61 726.32,610.41 730.14,613.31 733.95,633.82 737.77,631.07 741.58,590.48 745.4,589.29 749.21,568.32 753.03,593.34 756.84,603.2 760.66,584.83 764.47,617.75 768.29,640.51 772.11,654.14 775.92,634.4 779.74,613.6 783.55,633.14 787.37,620.24 791.18,612.89 795,610.7 798.81,628.8 802.63,625.26 806.44,619.52 810.26,594.01 814.07,596.94 817.89,618.81 821.7,619.35 825.52,625.13 829.33,630.35 833.15,642.85 836.97,660.99 840.78,648.34 844.6,653.65 848.41,617.03 852.23,625.41 856.04,631.95 859.86,664.76 863.67,657.5 867.49,657.83 871.3,650.43 875.12,673.05 878.93,651.38 882.75,659.08 886.56,658.13 890.38,623.83 894.19,612.23 898.01,627.84 901.83,613.85 905.64,624.46 909.46,618.62 913.27,632.54 917.09,639.55 920.9,636.14 924.72,626.19 928.53,624.01 932.35,623.63 936.16,620.87 939.98,630.63 943.79,625.86 947.61,608.07 951.42,601 955.24,633.84 959.05,639.45 962.87,639.45 966.69,668.22 970.5,678.95 974.32,679.86 978.13,695.96 981.95,674.7 985.76,682.56 989.58,663.68 993.39,659.98 997.21,660.79 1001.02,623.27 1004.84,621.32 1008.65,608.33 1012.47,631.75 1016.28,627.19 1020.1,623.14 1023.91,650.64 1027.73,641.72 1031.55,646.45 1035.36,701.41 1039.18,708.85 1042.99,667.05 1046.81,661.73 1050.62,668.3 1054.44,679.51 1058.25,691.1 1062.07,710.11 1065.88,710.62 1069.7,705.96 1073.51,699 1077.33,695.31 1081.14,700.78 1084.96,685.59 1088.77,663.85 1092.59,658.45 1096.41,614.74 1100.22,616.78 1104.04,615.99 1107.85,619.46 1111.67,634.99 1115.48,641.4 1119.3,622.33 1123.11,641.43 1126.93,668.96 1130.74,687.62 1134.56,676.71 1138.37,688.41 1142.19,651.53 1146,663.79 1149.82,656.56 1153.64,644.41 1157.45,654.44 1161.27,652.19 1165.08,650.6 1168.9,663.38 1169.7,715.5 9.85,715.5" fill="#f23645" fill-opacity="0.07"/>
<polygon clip-path="url(#ob)" points="9.04,662.25 12.86,640.64 16.68,640.04 20.49,616.96 24.31,638.89 28.12,668.17 31.94,664.67 35.75,651.88 39.57,660.53 43.38,658.09 47.2,663.03 51.01,648.67 54.83,666.47 58.64,663.1 62.46,677.89 66.27,671.37 70.09,651.3 73.91,660.69 77.72,676.8 81.54,705.08 85.35,708.75 89.17,720.7 92.98,721.57 96.8,726.89 100.61,723.24 104.43,716.93 108.24,715.13 112.06,707.45 115.87,704.64 119.69,686.65 123.5,694.64 127.32,684.46 131.13,692.4 134.95,698.15 138.77,700.63 142.58,707.25 146.4,695.51 150.21,688.84 154.03,702.04 157.84,686.95 161.66,675.18 165.47,710.43 169.29,708.74 173.1,703.3 176.92,700.39 180.73,668.49 184.55,674.7 188.36,641.98 192.18,657.76 195.99,658.25 199.81,590.62 203.63,588.66 207.44,596.45 211.26,600.38 215.07,633.66 218.89,657.45 222.7,648.56 226.52,636.31 230.33,661.5 234.15,655.57 237.96,644.92 241.78,654.2 245.59,650.02 249.41,651.03 253.22,640.19 257.04,652.98 260.85,664.8 264.67,664.8 268.49,660.9 272.3,650.32 276.12,646.44 279.93,650.9 283.75,663.18 287.56,681.36 291.38,685.54 295.19,689.87 299.01,682.51 302.82,674.67 306.64,693.69 310.45,675.93 314.27,675.19 318.08,670.51 321.9,705.87 325.71,700.42 329.53,707.11 333.35,654.81 337.16,667.96 340.98,638.84 344.79,609.35 348.61,611.72 352.42,634.78 356.24,640.16 360.05,637.04 363.87,623.76 367.68,622.73 371.5,621.64 375.31,620.1 379.13,611.38 382.94,593.39 386.76,600.78 390.58,604.13 394.39,587.09 398.21,614.82 402.02,630.63 405.84,610.33 409.65,611.84 413.47,608.59 417.28,617.64 421.1,594.21 424.91,624.87 428.73,634.03 432.54,636.71 436.36,612.51 440.17,604.31 443.99,574.55 447.8,586.7 451.62,574.8 455.44,604.54 459.25,602.99 463.07,602.99 466.88,613.79 470.7,622.92 474.51,622.92 478.33,628.56 482.14,611.91 485.96,632.9 489.77,630.12 493.59,615.85 497.4,582.31 501.22,607.64 505.03,615.1 508.85,613.33 512.66,623.79 516.48,622.37 520.3,613.39 524.11,634.09 527.93,646.68 531.74,628.2 535.56,643.48 539.37,642.56 543.19,646.92 547,647.72 550.82,667.36 554.63,643.67 558.45,633.59 562.26,631.15 566.08,615.47 569.89,600.72 573.71,616.44 577.52,624.02 581.34,597.15 585.16,623.17 588.97,596.57 592.79,594.23 596.6,596.31 600.42,600.27 604.23,572.22 608.05,604.19 611.86,611.47 615.68,625.61 619.49,619.18 623.31,627.66 627.12,603.19 630.94,598.31 634.75,586.95 638.57,606.28 642.38,595.06 646.2,593.62 650.02,603.2 653.83,593.43 657.65,614.75 661.46,629.29 665.28,623.38 669.09,620.91 672.91,616.2 676.72,611.6 680.54,597.84 684.35,594.43 688.17,582.88 691.98,622.06 695.8,619.51 699.61,624.33 703.43,633.84 707.24,633.08 711.06,630.32 714.88,612.45 718.69,615.83 722.51,579.61 726.32,610.41 730.14,613.31 733.95,633.82 737.77,631.07 741.58,590.48 745.4,589.29 749.21,568.32 753.03,593.34 756.84,603.2 760.66,584.83 764.47,617.75 768.29,640.51 772.11,654.14 775.92,634.4 779.74,613.6 783.55,633.14 787.37,620.24 791.18,612.89 795,610.7 798.81,628.8 802.63,625.26 806.44,619.52 810.26,594.01 814.07,596.94 817.89,618.81 821.7,619.35 825.52,625.13 829.33,630.35 833.15,642.85 836.97,660.99 840.78,648.34 844.6,653.65 848.41,617.03 852.23,625.41 856.04,631.95 859.86,664.76 863.67,657.5 867.49,657.83 871.3,650.43 875.12,673.05 878.93,651.38 882.75,659.08 886.56,658.13 890.38,623.83 894.19,612.23 898.01,627.84 901.83,613.85 905.64,624.46 909.46,618.62 913.27,632.54 917.09,639.55 920.9,636.14 924.72,626.19 928.53,624.01 932.35,623.63 936.16,620.87 939.98,630.63 943.79,625.86 947.61,608.07 951.42,601 955.24,633.84 959.05,639.45 962.87,639.45 966.69,668.22 970.5,678.95 974.32,679.86 978.13,695.96 981.95,674.7 985.76,682.56 989.58,663.68 993.39,659.98 997.21,660.79 1001.02,623.27 1004.84,621.32 1008.65,608.33 1012.47,631.75 1016.28,627.19 1020.1,623.14 1023.91,650.64 1027.73,641.72 1031.55,646.45 1035.36,701.41 1039.18,708.85 1042.99,667.05 1046.81,661.73 1050.62,668.3 1054.44,679.51 1058.25,691.1 1062.07,710.11 1065.88,710.62 1069.7,705.96 1073.51,699 1077.33,695.31 1081.14,700.78 1084.96,685.59 1088.77,663.85 1092.59,658.45 1096.41,614.74 1100.22,616.78 1104.04,615.99 1107.85,619.46 1111.67,634.99 1115.48,641.4 1119.3,622.33 1123.11,641.43 1126.93,668.96 1130.74,687.62 1134.56,676.71 1138.37,688.41 1142.19,651.53 1146,663.79 1149.82,656.56 1153.64,644.41 1157.45,654.44 1161.27,652.19 1165.08,650.6 1168.9,663.38 1169.7,573.5 9.85,573.5" fill="#089981" fill-opacity="0.07"/>
<polyline points="9.04,662.25 12.86,640.64 16.68,640.04 20.49,616.96 24.31,638.89 28.12,668.17 31.94,664.67 35.75,651.88 39.57,660.53 43.38,658.09 47.2,663.03 51.01,648.67 54.83,666.47 58.64,663.1 62.46,677.89 66.27,671.37 70.09,651.3 73.91,660.69 77.72,676.8 81.54,705.08 85.35,708.75 89.17,720.7 92.98,721.57 96.8,726.89 100.61,723.24 104.43,716.93 108.24,715.13 112.06,707.45 115.87,704.64 119.69,686.65 123.5,694.64 127.32,684.46 131.13,692.4 134.95,698.15 138.77,700.63 142.58,707.25 146.4,695.51 150.21,688.84 154.03,702.04 157.84,686.95 161.66,675.18 165.47,710.43 169.29,708.74 173.1,703.3 176.92,700.39 180.73,668.49 184.55,674.7 188.36,641.98 192.18,657.76 195.99,658.25 199.81,590.62 203.63,588.66 207.44,596.45 211.26,600.38 215.07,633.66 218.89,657.45 222.7,648.56 226.52,636.31 230.33,661.5 234.15,655.57 237.96,644.92 241.78,654.2 245.59,650.02 249.41,651.03 253.22,640.19 257.04,652.98 260.85,664.8 264.67,664.8 268.49,660.9 272.3,650.32 276.12,646.44 279.93,650.9 283.75,663.18 287.56,681.36 291.38,685.54 295.19,689.87 299.01,682.51 302.82,674.67 306.64,693.69 310.45,675.93 314.27,675.19 318.08,670.51 321.9,705.87 325.71,700.42 329.53,707.11 333.35,654.81 337.16,667.96 340.98,638.84 344.79,609.35 348.61,611.72 352.42,634.78 356.24,640.16 360.05,637.04 363.87,623.76 367.68,622.73 371.5,621.64 375.31,620.1 379.13,611.38 382.94,593.39 386.76,600.78 390.58,604.13 394.39,587.09 398.21,614.82 402.02,630.63 405.84,610.33 409.65,611.84 413.47,608.59 417.28,617.64 421.1,594.21 424.91,624.87 428.73,634.03 432.54,636.71 436.36,612.51 440.17,604.31 443.99,574.55 447.8,586.7 451.62,574.8 455.44,604.54 459.25,602.99 463.07,602.99 466.88,613.79 470.7,622.92 474.51,622.92 478.33,628.56 482.14,611.91 485.96,632.9 489.77,630.12 493.59,615.85 497.4,582.31 501.22,607.64 505.03,615.1 508.85,613.33 512.66,623.79 516.48,622.37 520.3,613.39 524.11,634.09 527.93,646.68 531.74,628.2 535.56,643.48 539.37,642.56 543.19,646.92 547,647.72 550.82,667.36 554.63,643.67 558.45,633.59 562.26,631.15 566.08,615.47 569.89,600.72 573.71,616.44 577.52,624.02 581.34,597.15 585.16,623.17 588.97,596.57 592.79,594.23 596.6,596.31 600.42,600.27 604.23,572.22 608.05,604.19 611.86,611.47 615.68,625.61 619.49,619.18 623.31,627.66 627.12,603.19 630.94,598.31 634.75,586.95 638.57,606.28 642.38,595.06 646.2,593.62 650.02,603.2 653.83,593.43 657.65,614.75 661.46,629.29 665.28,623.38 669.09,620.91 672.91,616.2 676.72,611.6 680.54,597.84 684.35,594.43 688.17,582.88 691.98,622.06 695.8,619.51 699.61,624.33 703.43,633.84 707.24,633.08 711.06,630.32 714.88,612.45 718.69,615.83 722.51,579.61 726.32,610.41 730.14,613.31 733.95,633.82 737.77,631.07 741.58,590.48 745.4,589.29 749.21,568.32 753.03,593.34 756.84,603.2 760.66,584.83 764.47,617.75 768.29,640.51 772.11,654.14 775.92,634.4 779.74,613.6 783.55,633.14 787.37,620.24 791.18,612.89 795,610.7 798.81,628.8 802.63,625.26 806.44,619.52 810.26,594.01 814.07,596.94 817.89,618.81 821.7,619.35 825.52,625.13 829.33,630.35 833.15,642.85 836.97,660.99 840.78,648.34 844.6,653.65 848.41,617.03 852.23,625.41 856.04,631.95 859.86,664.76 863.67,657.5 867.49,657.83 871.3,650.43 875.12,673.05 878.93,651.38 882.75,659.08 886.56,658.13 890.38,623.83 894.19,612.23 898.01,627.84 901.83,613.85 905.64,624.46 909.46,618.62 913.27,632.54 917.09,639.55 920.9,636.14 924.72,626.19 928.53,624.01 932.35,623.63 936.16,620.87 939.98,630.63 943.79,625.86 947.61,608.07 951.42,601 955.24,633.84 959.05,639.45 962.87,639.45 966.69,668.22 970.5,678.95 974.32,679.86 978.13,695.96 981.95,674.7 985.76,682.56 989.58,663.68 993.39,659.98 997.21,660.79 1001.02,623.27 1004.84,621.32 1008.65,608.33 1012.47,631.75 1016.28,627.19 1020.1,623.14 1023.91,650.64 1027.73,641.72 1031.55,646.45 1035.36,701.41 1039.18,708.85 1042.99,667.05 1046.81,661.73 1050.62,668.3 1054.44,679.51 1058.25,691.1 1062.07,710.11 1065.88,710.62 1069.7,705.96 1073.51,699 1077.33,695.31 1081.14,700.78 1084.96,685.59 1088.77,663.85 1092.59,658.45 1096.41,614.74 1100.22,616.78 1104.04,615.99 1107.85,619.46 1111.67,634.99 1115.48,641.4 1119.3,622.33 1123.11,641.43 1126.93,668.96 1130.74,687.62 1134.56,676.71 1138.37,688.41 1142.19,651.53 1146,663.79 1149.82,656.56 1153.64,644.41 1157.45,654.44 1161.27,652.19 1165.08,650.6 1168.9,663.38" fill="none" stroke="#7e57c2" stroke-width="3" stroke-linejoin="round" stroke-linecap="round"/>
<polyline points="9.04,659.41 12.86,658.45 16.68,657.2 20.49,655.96 24.31,656.6 28.12,657.4 31.94,658.21 35.75,657.34 39.57,656.12 43.38,655.11 47.2,654.91 51.01,654.71 54.83,654.51 58.64,653.1 62.46,654.22 66.27,656.41 70.09,657.22 73.91,660.34 77.72,663.05 81.54,665.68 85.35,668.83 89.17,673.75 92.98,678.11 96.8,683.02 100.61,687.32 104.43,692.2 108.24,695.68 112.06,698.84 115.87,700.75 119.69,701.84 123.5,704.94 127.32,706.64 131.13,707.75 134.95,707.26 138.77,706.68 142.58,705.72 146.4,703.85 150.21,701.14 154.03,699.62 157.84,697.48 161.66,694.63 165.47,694.84 169.29,695.13 173.1,696.32 176.92,696.73 180.73,695.59 184.55,694.33 188.36,690.32 192.18,687.25 195.99,683.75 199.81,676.26 203.63,669.11 207.44,661.56 211.26,655.38 215.07,652.42 218.89,648.63 222.7,644.33 226.52,639.55 230.33,636.77 234.15,635.85 237.96,633.72 241.78,634.59 245.59,634.04 249.41,633.52 253.22,637.07 257.04,641.66 260.85,646.54 264.67,651.14 268.49,653.09 272.3,652.58 276.12,652.43 279.93,653.47 283.75,653.59 287.56,655.43 291.38,658.33 295.19,660.88 299.01,663.2 302.82,664.89 306.64,668.71 310.45,670.35 314.27,671.09 318.08,671.5 321.9,674.71 325.71,678.29 329.53,682.63 333.35,682.9 337.16,683.25 340.98,680.21 344.79,674.77 348.61,669.18 352.42,665.78 356.24,663.31 360.05,659.26 363.87,655.54 367.68,651.79 371.5,648.3 375.31,642.17 379.13,635.81 382.94,627.69 386.76,623.83 390.58,619.27 394.39,615.57 398.21,615.97 402.02,617.32 405.84,615.57 409.65,613.55 413.47,611.51 417.28,611.08 421.1,609.04 424.91,609.27 428.73,610.27 432.54,612.08 436.36,613.44 440.17,613.69 443.99,611.58 447.8,611.55 451.62,608.69 455.44,606.83 459.25,606.31 463.07,605.67 466.88,606.04 470.7,606.42 474.51,608.47 478.33,608.74 482.14,607.16 485.96,606.88 489.77,608.14 493.59,608.97 497.4,609.52 501.22,611.02 505.03,613.9 508.85,614.52 512.66,616.01 516.48,617.39 520.3,617.36 524.11,618.16 527.93,619.86 531.74,619.83 535.56,622.09 539.37,622.78 543.19,623.98 547,626.25 550.82,632.33 554.63,634.9 558.45,636.22 562.26,637.5 566.08,636.9 569.89,635.36 573.71,635.57 577.52,634.86 581.34,631.32 585.16,630.96 588.97,627.61 592.79,624.16 596.6,620.54 600.42,617.15 604.23,610.36 608.05,607.54 611.86,605.96 615.68,605.56 619.49,605.83 623.31,607.75 627.12,606.8 630.94,604.97 634.75,604.24 638.57,603.03 642.38,602.92 646.2,602.88 650.02,603.37 653.83,602.88 657.65,605.92 661.46,607.71 665.28,608.56 669.09,608.23 672.91,608.02 676.72,606.87 680.54,606.49 684.35,606.21 688.17,605.92 691.98,607.05 695.8,608.79 699.61,610.99 703.43,613.17 707.24,616.01 711.06,617.12 714.88,615.92 718.69,615.38 722.51,612.43 726.32,612.01 730.14,612.13 733.95,614.71 737.77,617.32 741.58,617.87 745.4,615.53 749.21,611.87 753.03,609.66 756.84,607.47 760.66,604.02 764.47,603.12 768.29,605.13 772.11,607.86 775.92,611.78 779.74,612.01 783.55,613.42 787.37,612.45 791.18,611.15 795,612.6 798.81,615.42 802.63,619.49 806.44,621.36 810.26,620.7 814.07,621.57 817.89,621.64 821.7,620.13 825.52,618.06 829.33,617.77 833.15,619.86 836.97,621.85 840.78,623.85 844.6,626.77 848.41,627.22 852.23,626.98 856.04,627.45 859.86,630.68 863.67,635.22 867.49,639.57 871.3,641.83 875.12,645.66 878.93,647.54 882.75,649.59 886.56,650.68 890.38,648.03 894.19,645.45 898.01,643.6 901.83,643.38 905.64,643.31 909.46,642.36 913.27,640.05 917.09,638.77 920.9,637.22 924.72,635.49 928.53,631.99 932.35,630.01 936.16,627.28 939.98,625.31 943.79,625.46 947.61,625.16 951.42,623.24 955.24,624.67 959.05,625.74 962.87,627.23 966.69,629.78 970.5,632.59 974.32,635.72 978.13,640.7 981.95,644.32 985.76,648.53 989.58,651.59 993.39,653.68 997.21,656.18 1001.02,657.26 1004.84,658.72 1008.65,656.9 1012.47,656.35 1016.28,655.47 1020.1,652.25 1023.91,650.23 1027.73,647.5 1031.55,643.97 1035.36,645.87 1039.18,647.75 1042.99,647.99 1046.81,648.12 1050.62,648.65 1054.44,652.67 1058.25,657.66 1062.07,664.93 1065.88,670.56 1069.7,676.19 1073.51,681.6 1077.33,684.8 1081.14,689.01 1084.96,691.81 1088.77,689.13 1092.59,685.53 1096.41,681.79 1100.22,678.58 1104.04,674.84 1107.85,670.55 1111.67,666.54 1115.48,661.64 1119.3,655.33 1123.11,650.72 1126.93,648.58 1130.74,648.03 1134.56,646.31 1138.37,646.51 1142.19,645.63 1146,646.01 1149.82,649 1153.64,650.97 1157.45,653.72 1161.27,656.05 1165.08,657.17 1168.9,658.74" fill="none" stroke="#fdd835" stroke-width="1" stroke-linejoin="round"/>
</g>
<text font-size="12" fill="#131722" y="46"><tspan x="18">Bitcoin Cash / TetherUS · 1D · Binance</tspan><tspan x="231.4">O</tspan><tspan x="240.7" fill="#f23645">509.3</tspan><tspan x="277">H</tspan><tspan x="285.2" fill="#f23645">518.1</tspan><tspan x="321">L</tspan><tspan x="327.7" fill="#f23645">476.9</tspan><tspan x="363.9">C</tspan><tspan x="371.1" fill="#f23645">495.0</tspan><tspan x="408.4" fill="#f23645">−14.3 (−2.81%)</tspan></text>
<text font-size="12" fill="#131722" y="63"><tspan x="18" textLength="81.6" lengthAdjust="spacingAndGlyphs">EMA (20, close)</tspan><tspan x="107.6" fill="#2962ff">510.5</tspan></text>
<text font-size="12" fill="#131722" y="80"><tspan x="18" textLength="81.6" lengthAdjust="spacingAndGlyphs">SMA (50, close)</tspan><tspan x="107.6" fill="#f23645">529.6</tspan></text>
<text font-size="12" fill="#131722" y="578.6"><tspan x="18.7" textLength="74.5" lengthAdjust="spacingAndGlyphs">RSI (14, close)</tspan><tspan x="101.9" fill="#7e57c2">44.59</tspan><tspan x="138.5" fill="#fdd835">45.94</tspan></text>
<text x="1285" y="71" font-size="12" fill="#131722">640.0</text>
<text x="1285" y="118" font-size="12" fill="#131722">600.0</text>
<text x="1285" y="166" font-size="12" fill="#131722">560.0</text>
<text x="1285" y="213" font-size="12" fill="#131722">520.0</text>
<text x="1285" y="261" font-size="12" fill="#131722">480.0</text>
<text x="1285" y="308" font-size="12" fill="#131722">440.0</text>
<text x="1285" y="356" font-size="12" fill="#131722">400.0</text>
<text x="1285" y="404" font-size="12" fill="#131722">360.0</text>
<text x="1285" y="451" font-size="12" fill="#131722">320.0</text>
<text x="1285" y="499" font-size="12" fill="#131722">280.0</text>
<text x="1285" y="547" font-size="12" fill="#131722">240.0</text>
<text x="1285" y="577.7" font-size="12" fill="#131722">70.00</text>
<text x="1285" y="613.7" font-size="12" fill="#131722">60.00</text>
<text x="1285" y="648.7" font-size="12" fill="#131722">50.00</text>
<text x="1285" y="684.7" font-size="12" fill="#131722">40.00</text>
<text x="1285" y="719.7" font-size="12" fill="#131722">30.00</text>
<rect x="1280.5" y="31" width="57" height="26" rx="4" fill="#fff" stroke="#e0e3eb" stroke-width="1"/>
<text x="1289.3" y="48.5" font-size="12" fill="#131722" textLength="27.3" lengthAdjust="spacingAndGlyphs">USDT</text>
<rect x="1277" y="230" width="63" height="46" fill="#fff"/>
<rect x="1277" y="292" width="63" height="19" fill="#fff"/>
<path d="M1228.1,190.2 H1276 V206.6 H1228.1 Q1226.1,206.6 1226.1,204.6 V192.2 Q1226.1,190.2 1228.1,190.2 Z" fill="#f23645"/>
<path d="M1277,190.2 H1318 Q1320,190.2 1320,192.2 V204.6 Q1320,206.6 1318,206.6 H1277 Z" fill="#f23645"/>
<text x="1273" y="202.6" font-size="12" fill="#fff" stroke="#fff" stroke-width="0.35" text-anchor="end" textLength="42" lengthAdjust="spacingAndGlyphs">SMA:MA</text>
<text x="1285.3" y="202.6" font-size="12" fill="#fff" stroke="#fff" stroke-width="0.35" textLength="29.3" lengthAdjust="spacingAndGlyphs">529.6</text>
<path d="M1247.1,213.2 H1276 V229.6 H1247.1 Q1245.1,229.6 1245.1,227.6 V215.2 Q1245.1,213.2 1247.1,213.2 Z" fill="#2962ff"/>
<path d="M1277,213.2 H1318 Q1320,213.2 1320,215.2 V227.6 Q1320,229.6 1318,229.6 H1277 Z" fill="#2962ff"/>
<text x="1273" y="225.6" font-size="12" fill="#fff" stroke="#fff" stroke-width="0.35" text-anchor="end" textLength="23" lengthAdjust="spacingAndGlyphs">EMA</text>
<text x="1285.3" y="225.6" font-size="12" fill="#fff" stroke="#fff" stroke-width="0.35" textLength="29.3" lengthAdjust="spacingAndGlyphs">510.5</text>
<path d="M1220,231 H1276 V247.7 H1220 Q1218,247.7 1218,245.7 V233 Q1218,231 1220,231 Z" fill="#ef5350"/>
<text x="1222" y="243.6" font-size="12" fill="#fff" stroke="#fff" stroke-width="0.35" textLength="49" lengthAdjust="spacingAndGlyphs">BCHUSDT</text>
<path d="M1277,231 H1335 Q1337,231 1337,233 V273.8 Q1337,275.8 1335,275.8 H1277 Z" fill="#ef5350"/>
<text x="1285.3" y="243" font-size="12" fill="#fff" stroke="#fff" stroke-width="0.35" textLength="29.3" lengthAdjust="spacingAndGlyphs">495.0</text>
<text x="1285.3" y="257.7" font-size="12" fill="#fff" stroke="#fff" stroke-width="0.35" textLength="42.5" lengthAdjust="spacingAndGlyphs">+15.65%</text>
<text x="1285.3" y="271.2" font-size="12" fill="#fff" stroke="#fff" stroke-width="0.35" fill-opacity="0.8" stroke-opacity="0.8" textLength="46" lengthAdjust="spacingAndGlyphs">08:07:57</text>
<path d="M1277,293 H1317.7 Q1319.7,293 1319.7,295 V308 Q1319.7,310 1317.7,310 H1277 Z" fill="#0000ff"/>
<text x="1285.3" y="305.7" font-size="12" fill="#fff" stroke="#fff" stroke-width="0.35" textLength="29.3" lengthAdjust="spacingAndGlyphs">443.0</text>
<rect x="1277" y="636" width="63" height="38" fill="#fff"/>
<path d="M1199.1,638 H1276 V654.6 H1199.1 Q1197.1,654.6 1197.1,652.6 V640 Q1197.1,638 1199.1,638 Z" fill="#fdd835"/>
<path d="M1277,638 H1318 Q1320,638 1320,640 V652.6 Q1320,654.6 1318,654.6 H1277 Z" fill="#fdd835"/>
<text x="1273" y="650.5" font-size="12" fill="#131722" stroke="#131722" stroke-width="0.35" text-anchor="end" textLength="70.5" lengthAdjust="spacingAndGlyphs">RSI-based MA</text>
<text x="1285.3" y="650.5" font-size="12" fill="#131722" stroke="#131722" stroke-width="0.35" textLength="29.3" lengthAdjust="spacingAndGlyphs">45.94</text>
<path d="M1253.3,655.2 H1276 V671.8 H1253.3 Q1251.3,671.8 1251.3,669.8 V657.2 Q1251.3,655.2 1253.3,655.2 Z" fill="#7e57c2"/>
<path d="M1277,655.2 H1318 Q1320,655.2 1320,657.2 V669.8 Q1320,671.8 1318,671.8 H1277 Z" fill="#7e57c2"/>
<text x="1273" y="667.7" font-size="12" fill="#fff" stroke="#fff" stroke-width="0.35" text-anchor="end" textLength="15.5" lengthAdjust="spacingAndGlyphs">RSI</text>
<text x="1285.3" y="667.7" font-size="12" fill="#fff" stroke="#fff" stroke-width="0.35" textLength="29.3" lengthAdjust="spacingAndGlyphs">44.59</text>
<text x="78.5" y="755.6" font-size="12" fill="#131722" stroke="#131722" stroke-width="0.45" text-anchor="middle">Feb</text>
<text x="184.5" y="755.6" font-size="12" fill="#131722" stroke="#131722" stroke-width="0.45" text-anchor="middle">Mar</text>
<text x="303.5" y="755.6" font-size="12" fill="#131722" stroke="#131722" stroke-width="0.45" text-anchor="middle">Apr</text>
<text x="417.5" y="755.6" font-size="12" fill="#131722" stroke="#131722" stroke-width="0.45" text-anchor="middle">May</text>
<text x="535.5" y="755.6" font-size="12" fill="#131722" stroke="#131722" stroke-width="0.45" text-anchor="middle">Jun</text>
<text x="650.5" y="755.6" font-size="12" fill="#131722" stroke="#131722" stroke-width="0.45" text-anchor="middle">Jul</text>
<text x="768.5" y="755.6" font-size="12" fill="#131722" stroke="#131722" stroke-width="0.45" text-anchor="middle">Aug</text>
<text x="886.5" y="755.6" font-size="12" fill="#131722" stroke="#131722" stroke-width="0.45" text-anchor="middle">Sep</text>
<text x="1001.5" y="755.6" font-size="12" fill="#131722" stroke="#131722" stroke-width="0.45" text-anchor="middle">Oct</text>
<text x="1119.5" y="755.6" font-size="12" fill="#131722" stroke="#131722" stroke-width="0.45" text-anchor="middle">Nov</text>
<text x="1234.5" y="755.6" font-size="12" fill="#131722" stroke="#131722" stroke-width="0.45" text-anchor="middle">Dec</text>
<path d="M12.1,788.1 H23.7 V802.9 H17.8 V794 H12.1 Z" fill="#131722"/>
<circle cx="29.1" cy="791.1" r="2.7" fill="#131722"/>
<path d="M34.8,788.1 H41.9 L36.2,802.9 H29.1 Z" fill="#131722"/>
<text x="49.6" y="802.9" font-size="21" font-weight="bold" fill="#131722" textLength="120.2" lengthAdjust="spacingAndGlyphs">TradingView</text>
</svg></body></html>
